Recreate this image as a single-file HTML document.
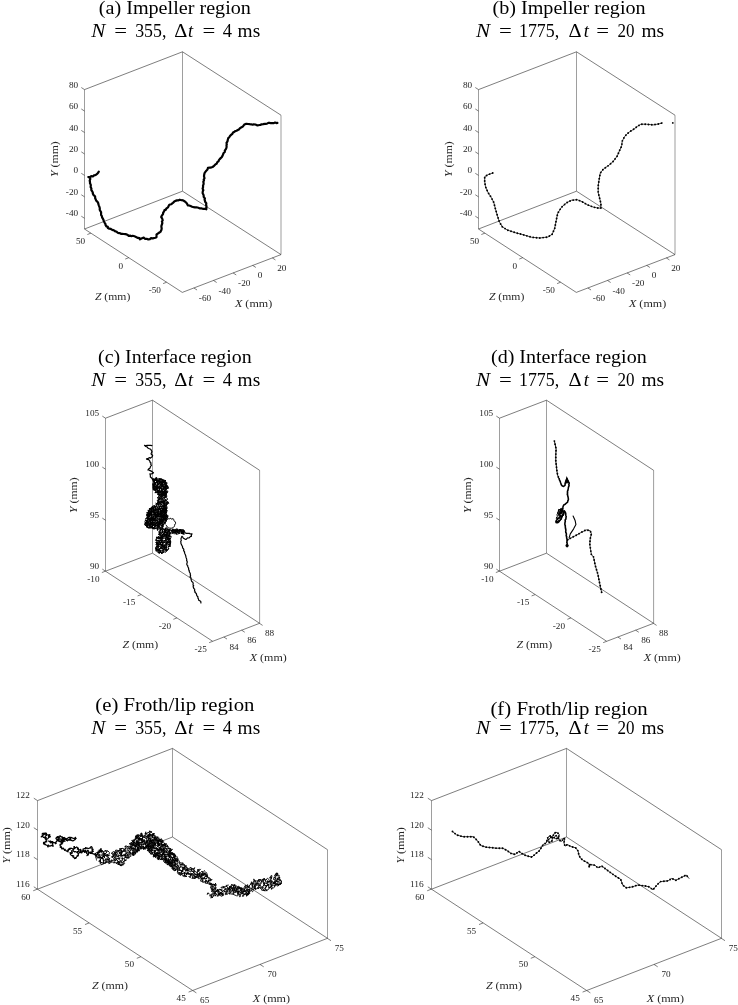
<!DOCTYPE html><html><head><meta charset="utf-8"><style>
html,body{margin:0;padding:0;background:#fff;}
svg{display:block;}
.ax line{stroke:#262626;stroke-width:0.6;}
.axv line{stroke:#262626;stroke-width:0.45;}
.tl text{font-family:"Liberation Serif",serif;font-size:9.2px;fill:#1e1e1e;}
.al{font-family:"Liberation Serif",serif;font-size:9.8px;fill:#262626;}
.ti{font-family:"Liberation Serif",serif;font-size:18.5px;fill:#000;}
.it{font-style:italic;}
.cv{fill:none;stroke:#000;stroke-linejoin:round;stroke-linecap:round;}
</style></head><body><svg width="738" height="1005" viewBox="0 0 738 1005">
<rect width="738" height="1005" fill="#fff"/>
<text class="ti" x="98.8" y="13.7" textLength="152.1" lengthAdjust="spacingAndGlyphs">(a) Impeller region</text>
<text class="ti" x="91.3" y="36.7" textLength="14.1" lengthAdjust="spacingAndGlyphs"><tspan class="it">N</tspan></text>
<text class="ti" x="114.3" y="36.7" textLength="12.8" lengthAdjust="spacingAndGlyphs">=</text>
<text class="ti" x="135.2" y="36.7" textLength="31.2" lengthAdjust="spacingAndGlyphs">355,</text>
<text class="ti" x="174.2" y="36.7" textLength="13.1" lengthAdjust="spacingAndGlyphs">Δ</text>
<text class="ti" x="188" y="36.7"><tspan class="it">t</tspan></text>
<text class="ti" x="202.6" y="36.7" textLength="12.8" lengthAdjust="spacingAndGlyphs">=</text>
<text class="ti" x="222.7" y="36.7">4</text>
<text class="ti" x="237.6" y="36.7" textLength="22.6" lengthAdjust="spacingAndGlyphs">ms</text>
<text class="ti" x="492.5" y="13.7" textLength="153.1" lengthAdjust="spacingAndGlyphs">(b) Impeller region</text>
<text class="ti" x="475.9" y="36.7" textLength="14.1" lengthAdjust="spacingAndGlyphs"><tspan class="it">N</tspan></text>
<text class="ti" x="498.9" y="36.7" textLength="12.8" lengthAdjust="spacingAndGlyphs">=</text>
<text class="ti" x="519" y="36.7" textLength="40.2" lengthAdjust="spacingAndGlyphs">1775,</text>
<text class="ti" x="568.6" y="36.7" textLength="13.1" lengthAdjust="spacingAndGlyphs">Δ</text>
<text class="ti" x="583.7" y="36.7"><tspan class="it">t</tspan></text>
<text class="ti" x="596.3" y="36.7" textLength="12.8" lengthAdjust="spacingAndGlyphs">=</text>
<text class="ti" x="617.6" y="36.7" textLength="17" lengthAdjust="spacingAndGlyphs">20</text>
<text class="ti" x="641.4" y="36.7" textLength="22.6" lengthAdjust="spacingAndGlyphs">ms</text>
<text class="ti" x="98" y="362.5" textLength="153.7" lengthAdjust="spacingAndGlyphs">(c) Interface region</text>
<text class="ti" x="91.3" y="385.5" textLength="14.1" lengthAdjust="spacingAndGlyphs"><tspan class="it">N</tspan></text>
<text class="ti" x="114.3" y="385.5" textLength="12.8" lengthAdjust="spacingAndGlyphs">=</text>
<text class="ti" x="135.2" y="385.5" textLength="31.2" lengthAdjust="spacingAndGlyphs">355,</text>
<text class="ti" x="174.2" y="385.5" textLength="13.1" lengthAdjust="spacingAndGlyphs">Δ</text>
<text class="ti" x="188" y="385.5"><tspan class="it">t</tspan></text>
<text class="ti" x="202.6" y="385.5" textLength="12.8" lengthAdjust="spacingAndGlyphs">=</text>
<text class="ti" x="222.7" y="385.5">4</text>
<text class="ti" x="237.6" y="385.5" textLength="22.6" lengthAdjust="spacingAndGlyphs">ms</text>
<text class="ti" x="491" y="362.5" textLength="155.7" lengthAdjust="spacingAndGlyphs">(d) Interface region</text>
<text class="ti" x="475.9" y="385.5" textLength="14.1" lengthAdjust="spacingAndGlyphs"><tspan class="it">N</tspan></text>
<text class="ti" x="498.9" y="385.5" textLength="12.8" lengthAdjust="spacingAndGlyphs">=</text>
<text class="ti" x="519" y="385.5" textLength="40.2" lengthAdjust="spacingAndGlyphs">1775,</text>
<text class="ti" x="568.6" y="385.5" textLength="13.1" lengthAdjust="spacingAndGlyphs">Δ</text>
<text class="ti" x="583.7" y="385.5"><tspan class="it">t</tspan></text>
<text class="ti" x="596.3" y="385.5" textLength="12.8" lengthAdjust="spacingAndGlyphs">=</text>
<text class="ti" x="617.6" y="385.5" textLength="17" lengthAdjust="spacingAndGlyphs">20</text>
<text class="ti" x="641.4" y="385.5" textLength="22.6" lengthAdjust="spacingAndGlyphs">ms</text>
<text class="ti" x="95.3" y="711.3" textLength="159.1" lengthAdjust="spacingAndGlyphs">(e) Froth/lip region</text>
<text class="ti" x="91.3" y="734.3" textLength="14.1" lengthAdjust="spacingAndGlyphs"><tspan class="it">N</tspan></text>
<text class="ti" x="114.3" y="734.3" textLength="12.8" lengthAdjust="spacingAndGlyphs">=</text>
<text class="ti" x="135.2" y="734.3" textLength="31.2" lengthAdjust="spacingAndGlyphs">355,</text>
<text class="ti" x="174.2" y="734.3" textLength="13.1" lengthAdjust="spacingAndGlyphs">Δ</text>
<text class="ti" x="188" y="734.3"><tspan class="it">t</tspan></text>
<text class="ti" x="202.6" y="734.3" textLength="12.8" lengthAdjust="spacingAndGlyphs">=</text>
<text class="ti" x="222.7" y="734.3">4</text>
<text class="ti" x="237.6" y="734.3" textLength="22.6" lengthAdjust="spacingAndGlyphs">ms</text>
<text class="ti" x="490.4" y="714.7" textLength="157.4" lengthAdjust="spacingAndGlyphs">(f) Froth/lip region</text>
<text class="ti" x="475.9" y="734.3" textLength="14.1" lengthAdjust="spacingAndGlyphs"><tspan class="it">N</tspan></text>
<text class="ti" x="498.9" y="734.3" textLength="12.8" lengthAdjust="spacingAndGlyphs">=</text>
<text class="ti" x="519" y="734.3" textLength="40.2" lengthAdjust="spacingAndGlyphs">1775,</text>
<text class="ti" x="568.6" y="734.3" textLength="13.1" lengthAdjust="spacingAndGlyphs">Δ</text>
<text class="ti" x="583.7" y="734.3"><tspan class="it">t</tspan></text>
<text class="ti" x="596.3" y="734.3" textLength="12.8" lengthAdjust="spacingAndGlyphs">=</text>
<text class="ti" x="617.6" y="734.3" textLength="17" lengthAdjust="spacingAndGlyphs">20</text>
<text class="ti" x="641.4" y="734.3" textLength="22.6" lengthAdjust="spacingAndGlyphs">ms</text>
<g class="ax">
<line x1="84.5" y1="89.6" x2="182.5" y2="51.8"/>
<line x1="182.5" y1="51.8" x2="281" y2="115.2"/>
<line x1="84.5" y1="229" x2="182.5" y2="191.2"/>
<line x1="182.5" y1="191.2" x2="281" y2="254.6"/>
<line x1="84.5" y1="229" x2="182.3" y2="292.4"/>
<line x1="182.3" y1="292.4" x2="281" y2="254.6"/>
</g><g class="axv">
<line x1="84.5" y1="229" x2="84.5" y2="89.6"/>
<line x1="281" y1="115.2" x2="281" y2="254.6"/>
<line x1="182.5" y1="51.8" x2="182.5" y2="191.2"/>
</g><g class="ax">
<line x1="84.5" y1="218.28" x2="81.31" y2="216.21"/>
<line x1="84.5" y1="196.83" x2="81.31" y2="194.76"/>
<line x1="84.5" y1="175.38" x2="81.31" y2="173.32"/>
<line x1="84.5" y1="153.94" x2="81.31" y2="151.87"/>
<line x1="84.5" y1="132.49" x2="81.31" y2="130.43"/>
<line x1="84.5" y1="111.05" x2="81.31" y2="108.98"/>
<line x1="84.5" y1="89.6" x2="81.31" y2="87.53"/>
<line x1="166.62" y1="282.24" x2="163.08" y2="283.6"/>
<line x1="128.76" y1="257.71" x2="125.21" y2="259.07"/>
<line x1="90.89" y1="233.17" x2="87.34" y2="234.53"/>
<line x1="193.87" y1="287.96" x2="197.05" y2="290.03"/>
<line x1="213.47" y1="280.44" x2="216.66" y2="282.51"/>
<line x1="233.07" y1="272.92" x2="236.26" y2="274.98"/>
<line x1="252.67" y1="265.39" x2="255.86" y2="267.46"/>
<line x1="272.27" y1="257.87" x2="275.46" y2="259.94"/>
</g>
<g class="tl">
<text class="t" x="78.15" y="216.38" text-anchor="end" textLength="12.27" lengthAdjust="spacingAndGlyphs">-40</text>
<text class="t" x="78.15" y="194.93" text-anchor="end" textLength="12.27" lengthAdjust="spacingAndGlyphs">-20</text>
<text class="t" x="78.15" y="173.48" text-anchor="end" textLength="4.6" lengthAdjust="spacingAndGlyphs">0</text>
<text class="t" x="78.15" y="152.04" text-anchor="end" textLength="9.2" lengthAdjust="spacingAndGlyphs">20</text>
<text class="t" x="78.15" y="130.59" text-anchor="end" textLength="9.2" lengthAdjust="spacingAndGlyphs">40</text>
<text class="t" x="78.15" y="109.15" text-anchor="end" textLength="9.2" lengthAdjust="spacingAndGlyphs">60</text>
<text class="t" x="78.15" y="87.7" text-anchor="end" textLength="9.2" lengthAdjust="spacingAndGlyphs">80</text>
<text class="t" x="160.92" y="293.14" text-anchor="end" textLength="12.27" lengthAdjust="spacingAndGlyphs">-50</text>
<text class="t" x="123.06" y="268.61" text-anchor="end" textLength="4.6" lengthAdjust="spacingAndGlyphs">0</text>
<text class="t" x="85.19" y="244.07" text-anchor="end" textLength="9.2" lengthAdjust="spacingAndGlyphs">50</text>
<text class="t" x="198.87" y="301.06" text-anchor="start" textLength="12.27" lengthAdjust="spacingAndGlyphs">-60</text>
<text class="t" x="218.47" y="293.54" text-anchor="start" textLength="12.27" lengthAdjust="spacingAndGlyphs">-40</text>
<text class="t" x="238.07" y="286.02" text-anchor="start" textLength="12.27" lengthAdjust="spacingAndGlyphs">-20</text>
<text class="t" x="257.67" y="278.49" text-anchor="start" textLength="4.6" lengthAdjust="spacingAndGlyphs">0</text>
<text class="t" x="277.27" y="270.97" text-anchor="start" textLength="9.2" lengthAdjust="spacingAndGlyphs">20</text>
</g>
<text class="al" transform="translate(58.2,159.1) rotate(-90)" x="-17.9" textLength="35.8" lengthAdjust="spacingAndGlyphs"><tspan class="it">Y</tspan> (mm)</text>
<text class="al" x="94.9" y="300.2" textLength="35.4" lengthAdjust="spacingAndGlyphs"><tspan class="it">Z</tspan> (mm)</text>
<text class="al" x="235" y="306.5" textLength="37.2" lengthAdjust="spacingAndGlyphs"><tspan class="it">X</tspan> (mm)</text>
<g class="ax">
<line x1="478.5" y1="89.6" x2="576.5" y2="51.8"/>
<line x1="576.5" y1="51.8" x2="675" y2="115.2"/>
<line x1="478.5" y1="229" x2="576.5" y2="191.2"/>
<line x1="576.5" y1="191.2" x2="675" y2="254.6"/>
<line x1="478.5" y1="229" x2="576.3" y2="292.4"/>
<line x1="576.3" y1="292.4" x2="675" y2="254.6"/>
</g><g class="axv">
<line x1="478.5" y1="229" x2="478.5" y2="89.6"/>
<line x1="675" y1="115.2" x2="675" y2="254.6"/>
<line x1="576.5" y1="51.8" x2="576.5" y2="191.2"/>
</g><g class="ax">
<line x1="478.5" y1="218.28" x2="475.31" y2="216.21"/>
<line x1="478.5" y1="196.83" x2="475.31" y2="194.76"/>
<line x1="478.5" y1="175.38" x2="475.31" y2="173.32"/>
<line x1="478.5" y1="153.94" x2="475.31" y2="151.87"/>
<line x1="478.5" y1="132.49" x2="475.31" y2="130.43"/>
<line x1="478.5" y1="111.05" x2="475.31" y2="108.98"/>
<line x1="478.5" y1="89.6" x2="475.31" y2="87.53"/>
<line x1="560.62" y1="282.24" x2="557.08" y2="283.6"/>
<line x1="522.76" y1="257.71" x2="519.21" y2="259.07"/>
<line x1="484.89" y1="233.17" x2="481.34" y2="234.53"/>
<line x1="587.87" y1="287.96" x2="591.05" y2="290.03"/>
<line x1="607.47" y1="280.44" x2="610.66" y2="282.51"/>
<line x1="627.07" y1="272.92" x2="630.26" y2="274.98"/>
<line x1="646.67" y1="265.39" x2="649.86" y2="267.46"/>
<line x1="666.27" y1="257.87" x2="669.46" y2="259.94"/>
</g>
<g class="tl">
<text class="t" x="472.15" y="216.38" text-anchor="end" textLength="12.27" lengthAdjust="spacingAndGlyphs">-40</text>
<text class="t" x="472.15" y="194.93" text-anchor="end" textLength="12.27" lengthAdjust="spacingAndGlyphs">-20</text>
<text class="t" x="472.15" y="173.48" text-anchor="end" textLength="4.6" lengthAdjust="spacingAndGlyphs">0</text>
<text class="t" x="472.15" y="152.04" text-anchor="end" textLength="9.2" lengthAdjust="spacingAndGlyphs">20</text>
<text class="t" x="472.15" y="130.59" text-anchor="end" textLength="9.2" lengthAdjust="spacingAndGlyphs">40</text>
<text class="t" x="472.15" y="109.15" text-anchor="end" textLength="9.2" lengthAdjust="spacingAndGlyphs">60</text>
<text class="t" x="472.15" y="87.7" text-anchor="end" textLength="9.2" lengthAdjust="spacingAndGlyphs">80</text>
<text class="t" x="554.92" y="293.14" text-anchor="end" textLength="12.27" lengthAdjust="spacingAndGlyphs">-50</text>
<text class="t" x="517.06" y="268.61" text-anchor="end" textLength="4.6" lengthAdjust="spacingAndGlyphs">0</text>
<text class="t" x="479.19" y="244.07" text-anchor="end" textLength="9.2" lengthAdjust="spacingAndGlyphs">50</text>
<text class="t" x="592.87" y="301.06" text-anchor="start" textLength="12.27" lengthAdjust="spacingAndGlyphs">-60</text>
<text class="t" x="612.47" y="293.54" text-anchor="start" textLength="12.27" lengthAdjust="spacingAndGlyphs">-40</text>
<text class="t" x="632.07" y="286.02" text-anchor="start" textLength="12.27" lengthAdjust="spacingAndGlyphs">-20</text>
<text class="t" x="651.67" y="278.49" text-anchor="start" textLength="4.6" lengthAdjust="spacingAndGlyphs">0</text>
<text class="t" x="671.27" y="270.97" text-anchor="start" textLength="9.2" lengthAdjust="spacingAndGlyphs">20</text>
</g>
<text class="al" transform="translate(452.2,159.1) rotate(-90)" x="-17.9" textLength="35.8" lengthAdjust="spacingAndGlyphs"><tspan class="it">Y</tspan> (mm)</text>
<text class="al" x="488.9" y="300.2" textLength="35.4" lengthAdjust="spacingAndGlyphs"><tspan class="it">Z</tspan> (mm)</text>
<text class="al" x="629" y="306.5" textLength="37.2" lengthAdjust="spacingAndGlyphs"><tspan class="it">X</tspan> (mm)</text>
<g class="ax">
<line x1="105.5" y1="418.2" x2="152.5" y2="400.2"/>
<line x1="152.5" y1="400.2" x2="259.6" y2="470.3"/>
<line x1="105.5" y1="571.2" x2="152.5" y2="553.2"/>
<line x1="152.5" y1="553.2" x2="259.6" y2="623.3"/>
<line x1="105.5" y1="571.2" x2="212.7" y2="641.3"/>
<line x1="212.7" y1="641.3" x2="259.6" y2="623.3"/>
</g><g class="axv">
<line x1="105.5" y1="571.2" x2="105.5" y2="418.2"/>
<line x1="259.6" y1="470.3" x2="259.6" y2="623.3"/>
<line x1="152.5" y1="400.2" x2="152.5" y2="553.2"/>
</g><g class="ax">
<line x1="105.5" y1="571.2" x2="102.32" y2="569.12"/>
<line x1="105.5" y1="520.2" x2="102.32" y2="518.12"/>
<line x1="105.5" y1="469.2" x2="102.32" y2="467.12"/>
<line x1="105.5" y1="418.2" x2="102.32" y2="416.12"/>
<line x1="212.7" y1="641.3" x2="209.15" y2="642.67"/>
<line x1="176.93" y1="617.93" x2="173.39" y2="619.3"/>
<line x1="141.17" y1="594.57" x2="137.62" y2="595.93"/>
<line x1="105.4" y1="571.2" x2="101.85" y2="572.57"/>
<line x1="223.82" y1="637.01" x2="227" y2="639.09"/>
<line x1="241.61" y1="630.16" x2="244.79" y2="632.24"/>
<line x1="259.4" y1="623.3" x2="262.58" y2="625.38"/>
</g>
<g class="tl">
<text class="t" x="99.1" y="568.7" text-anchor="end" textLength="9.2" lengthAdjust="spacingAndGlyphs">90</text>
<text class="t" x="99.1" y="517.7" text-anchor="end" textLength="9.2" lengthAdjust="spacingAndGlyphs">95</text>
<text class="t" x="99.1" y="466.7" text-anchor="end" textLength="13.8" lengthAdjust="spacingAndGlyphs">100</text>
<text class="t" x="99.1" y="415.7" text-anchor="end" textLength="13.8" lengthAdjust="spacingAndGlyphs">105</text>
<text class="t" x="206.8" y="652" text-anchor="end" textLength="12.27" lengthAdjust="spacingAndGlyphs">-25</text>
<text class="t" x="171.03" y="628.63" text-anchor="end" textLength="12.27" lengthAdjust="spacingAndGlyphs">-20</text>
<text class="t" x="135.27" y="605.27" text-anchor="end" textLength="12.27" lengthAdjust="spacingAndGlyphs">-15</text>
<text class="t" x="99.5" y="581.9" text-anchor="end" textLength="12.27" lengthAdjust="spacingAndGlyphs">-10</text>
<text class="t" x="229.42" y="649.91" text-anchor="start" textLength="9.2" lengthAdjust="spacingAndGlyphs">84</text>
<text class="t" x="247.21" y="643.06" text-anchor="start" textLength="9.2" lengthAdjust="spacingAndGlyphs">86</text>
<text class="t" x="265" y="636.2" text-anchor="start" textLength="9.2" lengthAdjust="spacingAndGlyphs">88</text>
</g>
<text class="al" transform="translate(77.4,495.2) rotate(-90)" x="-17.75" textLength="35.5" lengthAdjust="spacingAndGlyphs"><tspan class="it">Y</tspan> (mm)</text>
<text class="al" x="122.5" y="648.3" textLength="35.7" lengthAdjust="spacingAndGlyphs"><tspan class="it">Z</tspan> (mm)</text>
<text class="al" x="249.8" y="661.4" textLength="37" lengthAdjust="spacingAndGlyphs"><tspan class="it">X</tspan> (mm)</text>
<g class="ax">
<line x1="499.5" y1="418.2" x2="546.5" y2="400.2"/>
<line x1="546.5" y1="400.2" x2="653.6" y2="470.3"/>
<line x1="499.5" y1="571.2" x2="546.5" y2="553.2"/>
<line x1="546.5" y1="553.2" x2="653.6" y2="623.3"/>
<line x1="499.5" y1="571.2" x2="606.7" y2="641.3"/>
<line x1="606.7" y1="641.3" x2="653.6" y2="623.3"/>
</g><g class="axv">
<line x1="499.5" y1="571.2" x2="499.5" y2="418.2"/>
<line x1="653.6" y1="470.3" x2="653.6" y2="623.3"/>
<line x1="546.5" y1="400.2" x2="546.5" y2="553.2"/>
</g><g class="ax">
<line x1="499.5" y1="571.2" x2="496.32" y2="569.12"/>
<line x1="499.5" y1="520.2" x2="496.32" y2="518.12"/>
<line x1="499.5" y1="469.2" x2="496.32" y2="467.12"/>
<line x1="499.5" y1="418.2" x2="496.32" y2="416.12"/>
<line x1="606.7" y1="641.3" x2="603.15" y2="642.67"/>
<line x1="570.93" y1="617.93" x2="567.39" y2="619.3"/>
<line x1="535.17" y1="594.57" x2="531.62" y2="595.93"/>
<line x1="499.4" y1="571.2" x2="495.85" y2="572.57"/>
<line x1="617.82" y1="637.01" x2="621" y2="639.09"/>
<line x1="635.61" y1="630.16" x2="638.79" y2="632.24"/>
<line x1="653.4" y1="623.3" x2="656.58" y2="625.38"/>
</g>
<g class="tl">
<text class="t" x="493.1" y="568.7" text-anchor="end" textLength="9.2" lengthAdjust="spacingAndGlyphs">90</text>
<text class="t" x="493.1" y="517.7" text-anchor="end" textLength="9.2" lengthAdjust="spacingAndGlyphs">95</text>
<text class="t" x="493.1" y="466.7" text-anchor="end" textLength="13.8" lengthAdjust="spacingAndGlyphs">100</text>
<text class="t" x="493.1" y="415.7" text-anchor="end" textLength="13.8" lengthAdjust="spacingAndGlyphs">105</text>
<text class="t" x="600.8" y="652" text-anchor="end" textLength="12.27" lengthAdjust="spacingAndGlyphs">-25</text>
<text class="t" x="565.03" y="628.63" text-anchor="end" textLength="12.27" lengthAdjust="spacingAndGlyphs">-20</text>
<text class="t" x="529.27" y="605.27" text-anchor="end" textLength="12.27" lengthAdjust="spacingAndGlyphs">-15</text>
<text class="t" x="493.5" y="581.9" text-anchor="end" textLength="12.27" lengthAdjust="spacingAndGlyphs">-10</text>
<text class="t" x="623.42" y="649.91" text-anchor="start" textLength="9.2" lengthAdjust="spacingAndGlyphs">84</text>
<text class="t" x="641.21" y="643.06" text-anchor="start" textLength="9.2" lengthAdjust="spacingAndGlyphs">86</text>
<text class="t" x="659" y="636.2" text-anchor="start" textLength="9.2" lengthAdjust="spacingAndGlyphs">88</text>
</g>
<text class="al" transform="translate(471.4,495.2) rotate(-90)" x="-17.75" textLength="35.5" lengthAdjust="spacingAndGlyphs"><tspan class="it">Y</tspan> (mm)</text>
<text class="al" x="516.5" y="648.3" textLength="35.7" lengthAdjust="spacingAndGlyphs"><tspan class="it">Z</tspan> (mm)</text>
<text class="al" x="643.8" y="661.4" textLength="37" lengthAdjust="spacingAndGlyphs"><tspan class="it">X</tspan> (mm)</text>
<g class="ax">
<line x1="37.5" y1="800.6" x2="172.5" y2="748.4"/>
<line x1="172.5" y1="748.4" x2="327.5" y2="849.7"/>
<line x1="37.5" y1="889.2" x2="172.5" y2="837"/>
<line x1="172.5" y1="837" x2="327.5" y2="938.3"/>
<line x1="37.5" y1="889.2" x2="192.7" y2="990.5"/>
<line x1="192.7" y1="990.5" x2="327.5" y2="938.3"/>
</g><g class="axv">
<line x1="37.5" y1="889.2" x2="37.5" y2="800.6"/>
<line x1="327.5" y1="849.7" x2="327.5" y2="938.3"/>
<line x1="172.5" y1="748.4" x2="172.5" y2="837"/>
</g><g class="ax">
<line x1="37.5" y1="889.2" x2="33.81" y2="886.8"/>
<line x1="37.5" y1="859.67" x2="33.81" y2="857.26"/>
<line x1="37.5" y1="830.13" x2="33.81" y2="827.73"/>
<line x1="37.5" y1="800.6" x2="33.81" y2="798.2"/>
<line x1="192.7" y1="990.5" x2="188.6" y2="992.09"/>
<line x1="140.9" y1="956.73" x2="136.8" y2="958.32"/>
<line x1="89.1" y1="922.97" x2="85" y2="924.56"/>
<line x1="37.3" y1="889.2" x2="33.2" y2="890.79"/>
<line x1="192.7" y1="990.5" x2="196.39" y2="992.9"/>
<line x1="260" y1="964.4" x2="263.69" y2="966.8"/>
<line x1="327.3" y1="938.3" x2="330.99" y2="940.7"/>
</g>
<g class="tl">
<text class="t" x="29.8" y="887" text-anchor="end" textLength="13.8" lengthAdjust="spacingAndGlyphs">116</text>
<text class="t" x="29.8" y="857.47" text-anchor="end" textLength="13.8" lengthAdjust="spacingAndGlyphs">118</text>
<text class="t" x="29.8" y="827.93" text-anchor="end" textLength="13.8" lengthAdjust="spacingAndGlyphs">120</text>
<text class="t" x="29.8" y="798.4" text-anchor="end" textLength="13.8" lengthAdjust="spacingAndGlyphs">122</text>
<text class="t" x="185.8" y="1001.1" text-anchor="end" textLength="9.2" lengthAdjust="spacingAndGlyphs">45</text>
<text class="t" x="134" y="967.33" text-anchor="end" textLength="9.2" lengthAdjust="spacingAndGlyphs">50</text>
<text class="t" x="82.2" y="933.57" text-anchor="end" textLength="9.2" lengthAdjust="spacingAndGlyphs">55</text>
<text class="t" x="30.4" y="899.8" text-anchor="end" textLength="9.2" lengthAdjust="spacingAndGlyphs">60</text>
<text class="t" x="200.1" y="1003.2" text-anchor="start" textLength="9.2" lengthAdjust="spacingAndGlyphs">65</text>
<text class="t" x="267.4" y="977.1" text-anchor="start" textLength="9.2" lengthAdjust="spacingAndGlyphs">70</text>
<text class="t" x="334.7" y="951" text-anchor="start" textLength="9.2" lengthAdjust="spacingAndGlyphs">75</text>
</g>
<text class="al" transform="translate(9.6,845.4) rotate(-90)" x="-18.2" textLength="36.4" lengthAdjust="spacingAndGlyphs"><tspan class="it">Y</tspan> (mm)</text>
<text class="al" x="91.9" y="989.4" textLength="36" lengthAdjust="spacingAndGlyphs"><tspan class="it">Z</tspan> (mm)</text>
<text class="al" x="252.7" y="1001.9" textLength="37.4" lengthAdjust="spacingAndGlyphs"><tspan class="it">X</tspan> (mm)</text>
<g class="ax">
<line x1="431.5" y1="800.6" x2="566.5" y2="748.4"/>
<line x1="566.5" y1="748.4" x2="721.5" y2="849.7"/>
<line x1="431.5" y1="889.2" x2="566.5" y2="837"/>
<line x1="566.5" y1="837" x2="721.5" y2="938.3"/>
<line x1="431.5" y1="889.2" x2="586.7" y2="990.5"/>
<line x1="586.7" y1="990.5" x2="721.5" y2="938.3"/>
</g><g class="axv">
<line x1="431.5" y1="889.2" x2="431.5" y2="800.6"/>
<line x1="721.5" y1="849.7" x2="721.5" y2="938.3"/>
<line x1="566.5" y1="748.4" x2="566.5" y2="837"/>
</g><g class="ax">
<line x1="431.5" y1="889.2" x2="427.81" y2="886.8"/>
<line x1="431.5" y1="859.67" x2="427.81" y2="857.26"/>
<line x1="431.5" y1="830.13" x2="427.81" y2="827.73"/>
<line x1="431.5" y1="800.6" x2="427.81" y2="798.2"/>
<line x1="586.7" y1="990.5" x2="582.6" y2="992.09"/>
<line x1="534.9" y1="956.73" x2="530.8" y2="958.32"/>
<line x1="483.1" y1="922.97" x2="479" y2="924.56"/>
<line x1="431.3" y1="889.2" x2="427.2" y2="890.79"/>
<line x1="586.7" y1="990.5" x2="590.39" y2="992.9"/>
<line x1="654" y1="964.4" x2="657.69" y2="966.8"/>
<line x1="721.3" y1="938.3" x2="724.99" y2="940.7"/>
</g>
<g class="tl">
<text class="t" x="423.8" y="887" text-anchor="end" textLength="13.8" lengthAdjust="spacingAndGlyphs">116</text>
<text class="t" x="423.8" y="857.47" text-anchor="end" textLength="13.8" lengthAdjust="spacingAndGlyphs">118</text>
<text class="t" x="423.8" y="827.93" text-anchor="end" textLength="13.8" lengthAdjust="spacingAndGlyphs">120</text>
<text class="t" x="423.8" y="798.4" text-anchor="end" textLength="13.8" lengthAdjust="spacingAndGlyphs">122</text>
<text class="t" x="579.8" y="1001.1" text-anchor="end" textLength="9.2" lengthAdjust="spacingAndGlyphs">45</text>
<text class="t" x="528" y="967.33" text-anchor="end" textLength="9.2" lengthAdjust="spacingAndGlyphs">50</text>
<text class="t" x="476.2" y="933.57" text-anchor="end" textLength="9.2" lengthAdjust="spacingAndGlyphs">55</text>
<text class="t" x="424.4" y="899.8" text-anchor="end" textLength="9.2" lengthAdjust="spacingAndGlyphs">60</text>
<text class="t" x="594.1" y="1003.2" text-anchor="start" textLength="9.2" lengthAdjust="spacingAndGlyphs">65</text>
<text class="t" x="661.4" y="977.1" text-anchor="start" textLength="9.2" lengthAdjust="spacingAndGlyphs">70</text>
<text class="t" x="728.7" y="951" text-anchor="start" textLength="9.2" lengthAdjust="spacingAndGlyphs">75</text>
</g>
<text class="al" transform="translate(403.6,845.4) rotate(-90)" x="-18.2" textLength="36.4" lengthAdjust="spacingAndGlyphs"><tspan class="it">Y</tspan> (mm)</text>
<text class="al" x="485.9" y="989.4" textLength="36" lengthAdjust="spacingAndGlyphs"><tspan class="it">Z</tspan> (mm)</text>
<text class="al" x="646.7" y="1001.9" textLength="37.4" lengthAdjust="spacingAndGlyphs"><tspan class="it">X</tspan> (mm)</text>
<path class="cv" d="M98.8 171.7 L98.3 172.5 L97.4 173.7 L96.1 174.7 L95.0 175.1 L93.9 175.3 L93.1 176.5 L91.2 176.2 L89.9 177.1 L88.3 177.1 L90.2 177.9 L90.2 179.4 L89.7 180.5 L90.0 182.3 L90.0 183.4 L90.7 184.5 L90.8 185.6 L90.6 187.1 L91.4 188.6 L91.3 190.1 L92.0 191.0 L92.8 192.5 L92.8 193.5 L93.5 195.0 L94.2 195.6 L95.1 196.6 L95.2 198.4 L95.7 199.3 L96.2 200.7 L97.5 201.8 L98.1 202.9 L98.5 204.4 L98.9 205.6 L99.6 207.4 L99.8 208.4 L99.7 209.8 L100.6 211.4 L101.1 212.1 L101.1 213.8 L101.1 215.0 L101.8 215.9 L102.2 217.7 L102.8 218.5 L103.6 220.3 L103.8 221.2 L104.7 222.8 L105.5 224.1 L105.5 224.9 L106.4 226.4 L107.8 226.9 L107.9 228.1 L109.2 228.7 L110.8 228.9 L111.5 229.5 L113.1 230.1 L114.6 230.8 L115.3 231.4 L116.4 231.5 L117.7 232.8 L119.0 233.1 L119.9 233.1 L121.0 233.8 L122.3 233.8 L123.8 234.0 L125.3 234.1 L126.4 234.3 L127.6 234.9 L128.7 235.8 L130.4 235.6 L131.3 236.2 L132.7 235.8 L134.5 236.3 L135.5 236.7 L136.5 237.2 L137.9 237.9 L139.5 238.2 L139.9 239.4 L142.0 238.2 L143.7 237.6 L144.9 238.8 L146.4 238.8 L147.1 238.9 L148.2 239.5 L149.9 239.1 L151.0 238.2 L152.8 238.4 L154.2 238.0 L155.5 237.7 L156.4 237.3 L156.6 235.5 L156.5 234.4 L157.7 233.7 L159.4 232.5 L160.4 231.9 L161.4 230.0 L161.7 228.6 L161.4 226.8 L161.4 225.8 L162.1 224.0 L162.4 223.0 L161.9 221.5 L162.7 220.3 L162.1 218.3 L161.2 217.0 L161.9 215.6 L163.1 213.8 L163.1 212.9 L164.2 211.2 L164.5 210.1 L166.0 209.6 L166.2 208.6 L168.0 207.4 L168.5 206.3 L169.3 204.8 L171.1 204.3 L171.7 203.9 L172.6 203.2 L174.0 201.9 L174.5 201.3 L175.5 200.9 L176.9 200.4 L178.1 200.4 L179.7 199.7 L181.6 200.2 L183.1 200.4 L184.5 201.3 L185.7 202.1 L186.9 203.5 L187.8 205.3 L189.3 205.5 L191.1 206.2 L192.1 206.7 L193.8 207.2 L194.8 207.3 L196.4 207.3 L198.3 207.8 L199.5 208.3 L201.2 208.3 L202.3 208.6 L203.6 208.9 L204.9 208.8 L206.3 209.3 L206.4 207.9 L206.5 206.0 L206.1 205.2 L206.3 203.2 L205.3 202.1 L204.9 200.6 L204.6 199.6 L204.9 198.5 L203.7 196.9 L203.6 195.0 L203.2 194.4 L202.6 193.1 L202.8 191.3 L203.3 190.2 L202.6 188.5 L203.1 187.1 L203.0 185.7 L203.6 184.1 L203.6 183.1 L203.3 181.7 L204.0 180.5 L203.7 179.6 L204.5 178.2 L204.0 176.2 L204.1 175.3 L204.5 173.3 L204.8 172.7 L206.0 171.1 L206.3 170.7 L207.5 169.5 L207.9 167.9 L209.8 167.7 L210.6 167.6 L212.5 167.0 L213.3 166.5 L214.3 165.6 L215.6 164.2 L216.6 163.8 L217.3 162.1 L218.5 161.3 L218.9 160.1 L219.7 159.1 L220.7 158.1 L221.9 157.0 L222.5 155.8 L223.1 154.3 L223.7 152.9 L224.8 152.0 L224.8 150.6 L226.0 148.9 L226.4 147.9 L226.6 146.9 L226.5 145.2 L226.8 144.3 L226.5 142.8 L227.5 141.3 L227.8 139.7 L228.2 138.2 L229.1 137.5 L230.1 135.8 L230.8 135.2 L232.3 133.9 L233.0 132.6 L234.2 132.0 L235.2 131.1 L236.5 130.7 L238.3 129.7 L238.9 129.4 L240.1 128.1 L241.1 127.5 L242.5 126.8 L243.3 125.9 L244.1 124.8 L245.2 124.1 L246.5 123.8 L248.1 124.0 L249.7 124.2 L251.2 124.3 L252.6 124.7 L253.6 124.4 L255.5 124.5 L256.6 125.1 L257.4 125.5 L259.5 125.0 L260.7 124.8 L261.5 124.3 L263.2 124.2 L264.8 123.9 L265.9 123.8 L267.4 123.5 L268.3 122.8 L269.6 122.9 L270.9 123.2 L272.6 123.0 L273.9 123.1 L275.0 122.5 L276.4 123.1 L277.4 122.9" stroke-width="2.2"/>
<path class="cv" d="M492.7 173.0 L488.0 174.7 L484.7 176.7 L484.7 181.7 L485.5 186.7 L488.0 192.5 L491.3 197.5 L493.8 202.5 L495.5 209.2 L497.2 215.0 L499.3 221.7 L502.2 226.7 L507.2 230.0 L514.7 232.5 L523.0 234.7 L531.3 237.2 L539.7 238.0 L548.0 237.0 L552.2 234.2 L554.7 228.3 L556.3 220.0 L557.7 213.3 L561.3 207.5 L566.3 203.0 L571.3 200.3 L577.2 199.7 L582.2 201.7 L587.2 204.7 L593.0 207.0 L597.0 207.9 L600.9 208.2 L600.9 203.5 L599.6 198.1 L598.2 192.7 L598.2 185.9 L599.2 179.1 L600.3 173.0 L603.6 168.9 L608.4 165.6 L613.1 161.5 L617.2 156.1 L619.5 150.7 L621.7 145.9 L622.2 141.2 L624.7 136.4 L628.7 132.4 L634.1 129.0 L637.5 126.3 L640.9 124.2 L646.3 124.2 L653.1 124.9 L658.5 124.0 L662.3 122.9" stroke-width="0.7"/>
<path class="cv" d="M492.7 173.0 L488.0 174.7 L484.7 176.7 L484.7 181.7 L485.5 186.7 L488.0 192.5 L491.3 197.5 L493.8 202.5 L495.5 209.2 L497.2 215.0 L499.3 221.7 L502.2 226.7 L507.2 230.0 L514.7 232.5 L523.0 234.7 L531.3 237.2 L539.7 238.0 L548.0 237.0 L552.2 234.2 L554.7 228.3 L556.3 220.0 L557.7 213.3 L561.3 207.5 L566.3 203.0 L571.3 200.3 L577.2 199.7 L582.2 201.7 L587.2 204.7 L593.0 207.0 L597.0 207.9 L600.9 208.2 L600.9 203.5 L599.6 198.1 L598.2 192.7 L598.2 185.9 L599.2 179.1 L600.3 173.0 L603.6 168.9 L608.4 165.6 L613.1 161.5 L617.2 156.1 L619.5 150.7 L621.7 145.9 L622.2 141.2 L624.7 136.4 L628.7 132.4 L634.1 129.0 L637.5 126.3 L640.9 124.2 L646.3 124.2 L653.1 124.9 L658.5 124.0 L662.3 122.9" stroke-width="1.9" stroke-dasharray="0 3.3"/>
<circle cx="672.8" cy="122.9" r="0.9" fill="#000"/>
<path class="cv" d="M151.9 445.6 L150.7 445.3 L149.4 445.4 L147.7 445.4 L147.0 445.3 L145.9 445.8 L144.5 445.3 L145.3 446.1 L146.4 446.7 L147.1 446.9 L147.8 447.9 L149.4 448.8 L150.4 449.1 L151.0 449.7 L152.0 451.8 L151.6 452.6 L151.0 453.9 L151.6 454.5 L152.6 455.5 L152.2 456.9 L151.0 457.5 L150.6 458.1 L149.2 457.7 L147.7 458.7 L146.5 458.9 L147.2 459.4 L148.7 459.7 L149.5 460.6 L150.1 461.7 L150.2 462.7 L151.0 462.9 L150.8 464.4 L151.4 465.3 L150.5 466.5 L150.0 468.1 L148.9 468.7 L148.7 468.8 L147.9 470.0 L148.9 470.0 L149.5 470.4 L151.8 471.4 L152.4 472.1 L153.5 472.7 L152.2 473.7 L151.1 474.0 L149.9 473.8 L150.3 475.1 L150.4 477.1 L151.7 478.1 L152.4 479.3 L154.0 479.5 L155.2 479.5 L156.3 479.6 L157.3 479.4" stroke-width="1.2"/>
<path class="cv" d="M168.3 530.1 L168.8 529.7 L170.5 529.9 L171.1 530.2 L172.0 530.7 L173.7 530.3 L174.4 530.4 L175.3 530.5 L175.9 530.3 L176.9 531.0 L178.2 530.4 L179.6 531.2 L180.1 530.7 L180.9 531.0 L182.0 531.4 L182.9 531.9 L184.2 532.9 L185.4 532.8 L186.0 533.3 L187.0 533.3 L187.7 533.4 L189.6 533.4 L190.2 534.0 L191.5 533.8 L192.0 533.9 L191.4 535.0 L191.4 536.3 L190.6 536.3 L189.1 537.9 L189.0 538.0 L187.6 537.9 L186.4 539.1 L185.8 539.4 L184.9 539.1 L183.4 538.2 L183.1 537.9 L182.9 537.1 L181.9 536.3 L181.6 537.2 L181.0 538.6 L181.1 539.9 L181.3 540.4 L180.7 541.5 L181.0 543.1 L180.9 543.5 L181.7 545.0 L181.9 545.6 L182.5 546.4 L182.6 547.9 L183.6 549.0 L183.9 549.9 L183.6 550.6 L184.7 552.1 L184.4 552.4 L185.0 554.0 L185.3 554.6 L185.9 556.2 L185.8 556.3 L186.1 557.7 L186.5 558.5 L186.8 560.0 L186.6 560.5 L187.2 561.6 L187.2 562.5 L186.7 564.1 L187.2 565.3 L187.7 565.5 L187.8 566.7 L188.7 568.2 L188.5 568.7 L188.9 570.3 L189.2 570.4 L189.3 571.8 L190.3 573.5 L190.3 574.7 L190.6 575.2 L190.0 577.0 L190.7 577.2 L191.0 578.6 L191.1 579.5 L191.3 580.2 L191.8 581.6 L192.8 582.3 L193.2 583.4 L193.0 585.0 L193.7 585.6 L193.1 586.7 L193.7 588.1 L193.8 588.6 L194.7 589.2 L194.5 591.0 L195.1 591.2 L194.9 592.3 L196.3 593.5 L196.7 595.2 L196.8 595.6 L198.0 597.0 L197.8 598.1 L198.4 598.7 L198.7 600.2 L200.2 601.1 L200.8 601.5 L200.9 603.0" stroke-width="1.2"/>
<path class="cv" d="M154.4 481.9 L154.5 479.5 L152.8 478.3 L152.6 480.0 L154.6 479.6 L154.4 479.2 L155.7 477.7 L156.5 478.7 L156.1 478.9 L157.0 477.9 L155.6 478.9 L155.1 479.0 L156.8 477.5 L154.9 479.4 L156.4 480.0 L155.2 480.5 L156.1 480.7 L156.8 480.5 L154.0 480.2 L154.9 480.6 L156.1 479.3 L153.9 481.1 L153.8 480.4 L153.8 481.1 L153.1 481.5 L152.9 479.4 L154.2 480.9 L153.4 480.5 L154.1 482.5 L153.5 483.6 L152.7 483.3 L154.1 482.6 L153.8 482.2 L154.3 482.6 L154.6 485.2 L153.0 485.4 L153.1 483.7 L153.1 485.4 L153.3 484.4 L152.9 485.2 L154.4 484.2 L152.8 485.0 L153.9 485.2 L155.4 483.3 L155.8 484.6 L155.7 484.7 L155.8 484.9 L154.5 483.1 L155.1 485.9 L154.2 485.4 L155.8 484.0 L153.8 481.0 L155.2 482.1 L155.7 483.2 L157.0 481.8 L155.3 483.0 L154.0 482.0 L155.7 483.3 L154.9 483.7 L156.3 482.6 L157.1 482.5 L158.8 483.1 L157.1 482.6 L156.6 481.6 L158.6 481.8 L156.6 481.5 L156.9 482.8 L157.4 482.6 L157.3 485.9 L157.5 484.8 L156.9 484.8 L157.0 484.7 L157.3 485.3 L158.0 484.5 L157.4 484.4 L156.7 485.8 L156.8 485.0 L158.5 485.0 L157.0 483.5 L159.4 484.8 L158.3 484.9 L159.6 483.4 L158.3 484.5 L159.2 483.9 L159.2 481.4 L160.2 482.3 L158.3 481.7 L158.1 481.3 L159.2 482.1 L160.8 482.5 L160.3 483.6 L158.4 483.8 L159.8 482.7 L159.3 481.4 L160.2 483.3 L160.8 481.5 L160.3 481.6 L159.4 480.5 L159.0 481.8 L158.9 479.7 L159.6 480.5 L159.2 479.9 L160.5 480.9 L158.9 480.8 L158.4 480.2 L158.5 480.5 L156.9 481.0 L158.8 481.0 L156.8 480.5 L158.5 481.4 L156.1 479.0 L157.7 480.9 L158.6 480.2 L156.6 481.0 L157.1 481.3 L157.4 481.1 L155.6 480.3 L157.0 479.4 L156.3 479.8 L157.1 478.8 L159.7 479.3 L159.6 479.7 L159.4 478.3 L159.6 478.6 L159.2 479.0 L158.9 478.5 L160.0 479.6 L161.8 479.2 L160.0 479.5 L161.0 478.2 L160.8 478.9 L161.0 478.9 L160.9 480.6 L160.7 480.5 L160.7 480.5 L160.9 482.3 L161.0 482.0 L161.9 480.7 L161.3 479.8 L163.1 481.3 L163.8 479.7 L161.8 482.2 L163.1 481.4 L163.1 481.8 L161.7 480.9 L163.8 480.5 L163.6 482.0 L163.9 481.9 L164.1 480.3 L162.5 482.0 L163.1 480.7 L162.7 479.3 L163.7 480.3 L162.1 481.9 L163.9 482.1 L161.7 479.3 L162.7 479.4 L164.1 480.8 L164.4 481.2 L165.2 480.0 L165.1 481.0 L166.0 480.3 L164.6 481.1 L166.5 482.4 L165.2 481.9 L164.0 481.1 L164.5 483.0 L165.3 483.1 L164.7 481.9 L166.3 482.8 L164.9 482.6 L165.0 482.6 L165.8 482.7 L165.7 483.6 L166.4 486.4 L166.6 484.5 L166.7 483.8 L167.0 482.8 L165.5 485.8 L164.9 484.3 L165.3 483.3 L164.4 483.2 L165.2 485.9 L165.3 483.9 L165.4 483.5 L164.8 483.9 L163.7 484.5 L162.9 485.6 L163.3 484.3 L162.8 485.3 L162.3 485.1 L162.8 482.3 L163.9 482.3 L163.6 482.3 L164.0 482.7 L163.2 482.7 L162.4 483.3 L163.2 483.7 L162.6 482.6 L161.1 482.4 L160.8 482.6 L162.5 483.3 L161.2 482.5 L162.7 482.8 L161.5 482.8 L161.2 482.9 L162.8 482.9 L161.8 481.5 L161.0 483.6 L162.8 482.2 L160.6 484.0 L161.3 484.9 L161.8 485.3 L162.1 483.6 L160.2 485.6 L161.5 484.0 L162.1 485.4 L161.8 483.0 L162.0 484.7 L161.9 484.1 L161.9 483.9 L161.6 482.8 L161.1 484.1 L159.7 485.0 L162.7 483.8 L161.7 485.1 L162.8 484.6 L160.6 488.0 L160.8 487.1 L162.4 486.4 L160.1 485.7 L160.9 486.4 L161.4 485.3 L162.1 486.4 L162.7 486.1 L161.6 486.9 L162.4 488.5 L161.2 489.7 L161.5 488.0 L161.7 488.4 L161.7 489.3 L163.2 489.3 L164.0 489.0 L163.3 489.7 L163.4 487.7 L162.9 489.2 L163.5 489.8 L163.7 487.5 L164.0 486.5 L163.1 486.5 L164.1 485.5 L163.8 485.9 L163.8 487.3 L163.3 485.7 L161.6 486.5 L163.1 484.9 L162.9 485.9 L162.4 487.1 L165.7 487.2 L164.4 487.5 L164.6 486.2 L166.8 487.1 L165.3 486.6 L165.2 487.3 L164.5 488.2 L165.6 485.3 L165.6 485.4 L166.8 487.3 L165.2 486.2 L166.6 486.5 L167.7 487.7 L167.4 485.4 L166.5 486.5 L166.5 486.6 L166.5 486.3 L167.5 486.8 L167.8 486.2 L168.6 488.3 L165.8 488.5 L167.6 488.2 L167.1 488.9 L166.1 489.5 L166.4 489.2 L166.1 489.3 L164.4 489.0 L164.9 488.9 L164.7 488.7 L166.5 486.8 L166.7 487.0 L164.5 487.8 L166.4 489.1 L165.6 489.3 L165.1 488.0 L164.7 487.8 L165.2 490.1 L165.4 490.1 L163.9 490.0 L166.5 491.6 L164.3 490.8 L164.5 491.9 L166.0 489.5 L163.8 491.0 L164.2 490.2 L166.6 490.6 L167.5 490.9 L167.2 491.4 L167.9 491.4 L167.5 492.7 L167.0 493.0 L166.3 491.2 L165.3 493.8 L164.2 493.3 L164.5 492.0 L165.5 493.1 L165.4 492.9 L165.7 492.8 L166.3 493.9 L166.8 492.0 L165.2 492.3 L165.1 493.0 L165.9 491.9 L165.2 492.5 L165.8 492.5 L163.1 491.3 L162.3 493.8 L163.8 492.7 L165.1 491.1 L163.4 494.2 L163.0 492.9 L162.9 491.3 L163.2 493.3 L162.9 493.6 L162.0 492.7 L163.4 491.8 L164.1 492.5 L163.4 493.3 L162.9 491.2 L162.4 491.2 L163.2 491.5 L161.2 490.2 L160.4 491.3 L162.5 490.0 L161.0 492.3 L160.5 491.4 L162.2 489.8 L161.4 489.3 L161.3 490.6 L162.2 490.4 L160.6 491.3 L161.3 490.7 L161.4 491.8 L160.2 493.3 L161.7 491.4 L160.5 492.9 L160.6 492.5 L161.4 493.6 L161.6 494.0 L162.1 493.6 L161.4 492.4 L159.5 491.4 L157.6 491.4 L158.7 492.8 L160.4 492.3 L159.9 492.2 L160.2 492.8 L159.3 491.9 L157.9 492.2 L159.4 491.3 L159.4 492.2 L158.5 491.4 L156.9 491.8 L157.7 490.9 L158.4 493.3 L157.8 491.9 L157.3 493.3 L157.1 490.1 L157.1 490.0 L157.7 490.9 L157.3 492.3 L159.1 490.7 L157.1 491.0 L158.2 491.3 L158.3 490.3 L158.6 490.3 L159.6 490.2 L158.2 490.8 L158.4 490.6 L160.0 491.2 L159.6 490.5 L159.5 489.2 L159.2 488.3 L159.6 489.9 L159.1 488.2 L158.9 488.9 L160.3 487.6 L159.8 487.9 L161.1 488.7 L160.5 488.5 L159.1 488.3 L158.0 487.2 L159.7 488.0 L159.1 487.6 L159.3 486.4 L159.9 486.3 L159.6 487.0 L160.8 487.4 L158.5 486.4 L159.6 486.3 L159.7 486.9 L160.0 486.6 L158.4 487.1 L157.3 486.2 L157.1 486.0 L158.2 486.3 L156.7 485.9 L157.3 488.6 L158.2 489.1 L157.1 488.9 L158.4 488.1 L157.3 488.9 L155.8 489.7 L156.4 489.7 L156.6 487.6 L157.1 488.4 L156.6 490.2 L157.7 489.5 L157.9 488.5 L157.2 488.0 L158.9 487.4 L156.9 487.5 L154.6 487.3 L153.9 489.5 L155.4 489.3 L155.2 488.8 L154.7 489.4 L155.3 488.2 L155.6 489.1 L156.7 486.6 L155.0 487.3 L155.5 486.4 L154.9 487.0 L155.2 486.4 L155.3 485.9 L156.7 486.1 L154.7 486.5 L153.7 486.4 L153.2 487.7 L154.0 487.8 L154.7 487.0 L154.3 485.9 L152.8 486.5 L155.1 486.8 L153.1 485.9 L153.1 486.6 L153.7 488.6 L154.2 488.8 L154.3 489.0 L153.8 487.5 L153.7 488.0 L154.6 489.6 L153.5 489.9 L154.6 488.9 L152.8 487.4 L153.5 489.1 L153.5 487.7 L152.9 489.4 L154.9 490.1 L155.9 490.8 L154.5 489.6 L155.1 490.5 L156.4 491.0 L155.3 490.9 L156.0 489.1 L154.8 490.4 L154.7 489.9 L156.1 491.2 L156.2 491.0 L155.2 493.1 L155.0 492.4 L156.2 492.4 L155.9 492.0 L158.7 493.8 L157.4 494.5 L159.1 494.5 L159.7 496.3 L158.6 494.5 L160.5 495.1 L159.5 493.5 L159.3 495.2 L159.3 495.5 L159.6 494.7 L158.4 493.9 L159.5 494.3 L159.3 495.6 L159.5 494.2 L158.9 494.7 L160.4 495.7 L159.6 495.5 L159.3 496.3 L159.5 494.5 L161.6 493.3 L160.2 495.3 L161.8 494.1 L161.9 495.6 L160.7 493.8 L159.7 494.5 L160.4 494.7 L161.7 494.0 L164.0 495.0 L162.6 495.4 L164.5 495.6 L163.0 494.1 L163.4 494.1 L164.4 494.8 L163.5 495.0 L163.1 494.7 L161.7 495.6 L162.7 495.0 L162.5 493.9 L162.5 494.9 L164.8 493.5 L164.2 494.0 L165.6 495.7 L166.5 493.7 L165.0 492.9 L166.1 494.1 L164.0 494.6 L163.8 494.0 L164.2 493.8 L165.2 494.5 L166.5 494.2" stroke-width="1.0"/>
<path class="cv" d="M166.4 494.6 L166.9 496.5 L165.7 496.3 L164.7 496.6 L165.4 496.0 L164.7 495.2 L165.8 496.8 L164.9 497.1 L165.1 496.5 L165.3 494.8 L164.5 495.2 L163.9 497.2 L164.7 497.9 L165.3 496.7 L164.2 498.1 L166.4 497.3 L167.6 499.1 L166.4 500.8 L165.1 501.2 L165.3 499.7 L165.4 500.3 L165.7 499.5 L165.0 500.3 L166.7 500.2 L165.0 499.8 L163.5 500.7 L164.2 501.8 L164.8 501.5 L163.8 501.9 L165.0 503.2 L164.5 501.1 L163.6 501.9 L164.9 500.6 L165.6 501.3 L167.9 502.8 L167.3 501.4 L168.8 503.5 L167.4 502.2 L168.0 501.7 L168.1 503.1 M164.4 505.4 L164.4 504.9 L164.0 504.6 L165.6 506.0 L167.3 504.5 L166.6 504.5 L166.3 503.7 L166.7 504.8 L167.4 502.8 L166.4 505.3 L166.1 503.9 L165.8 504.3 L168.1 502.5 L165.4 502.6 L164.4 505.5 L164.7 503.6 L163.7 504.5 L165.7 504.0 L164.5 504.3 L165.0 504.2 L164.6 503.2 L163.6 504.6 L163.3 503.0 L163.7 503.2 L160.6 505.1 L161.6 504.7 L161.1 504.2 L161.5 504.2 L159.6 502.7 L160.8 504.7 L163.2 505.5 L163.5 505.6 M158.4 505.9 L157.8 504.9 L159.1 503.6 L159.5 502.6 L158.1 505.1 L157.9 504.9 L160.2 504.7 L158.5 502.9 L158.6 503.6 L158.0 504.1 L157.9 503.9 L155.7 503.2 L157.0 503.9 L157.2 503.8 L155.7 504.5 L157.2 503.9 L158.2 504.6 L157.3 503.9 L158.0 501.6 L157.2 500.5 L159.9 499.1 L158.0 500.7 L159.8 498.8 L158.7 499.5 L157.7 499.0 L159.9 499.7 L158.8 500.2 L158.2 501.9 L159.7 501.2 L157.6 502.3 L158.0 501.6 L157.8 500.8 L159.9 502.4 L157.7 502.4 L160.9 502.7 L161.3 500.7 L161.2 503.6 L160.9 502.0 L161.4 502.3 L162.1 502.6 L160.9 501.4 L161.3 501.8 L163.8 503.0 L163.1 502.3 L163.0 501.0 L163.1 501.8 L162.4 502.2 L163.8 503.5 L162.7 502.8 L163.5 502.4 L162.4 501.7 L161.7 501.3 L163.8 500.0 L162.5 499.1 L162.8 500.0 L163.7 501.3 L160.2 501.5 L162.4 499.0 L160.2 499.9 L159.9 496.9 L160.0 498.5 L161.2 498.2 L161.2 498.8 L160.7 498.1 L163.5 498.8 L164.7 499.1 L162.9 496.9 L162.9 496.1 L161.0 496.9 L160.7 495.9 L160.9 496.4 L161.3 497.0 L162.5 497.6 L160.7 497.1 L162.3 496.8 L162.0 494.7 L161.0 496.2 L160.3 496.3 L160.2 496.3 L159.4 495.3 L158.2 497.3 L157.8 497.5 L157.5 498.0 L157.9 497.2 L158.3 498.7 L158.7 498.8 L158.9 499.6 L159.8 497.5 L158.5 497.9" stroke-width="1.0"/>
<path class="cv" d="M166.4 507.5 L166.4 509.2 L167.3 507.7 L166.4 509.0 L166.5 510.0 L165.8 509.1 L165.1 507.7 L165.6 509.2 L165.0 509.5 L165.3 508.2 L166.4 508.1 L166.1 508.8 L164.5 509.0 L165.9 508.6 L165.0 506.9 L165.7 506.7 L166.0 505.6 L167.1 507.0 L165.3 507.5 L164.3 507.2 L165.5 505.6 L166.5 505.6 L166.7 505.0 L163.0 506.0 L162.7 506.1 L164.0 506.8 L163.5 508.2 L164.5 505.5 L164.8 507.0 L163.9 506.3 L162.4 506.1 L162.8 506.1 L163.6 505.9 L161.5 506.4 L162.1 506.5 L162.0 507.5 L161.6 506.4 L161.8 506.3 L161.3 506.9 L161.2 506.5 L161.8 506.6 L162.8 509.7 L161.4 507.8 L161.3 508.6 L162.7 508.8 L161.4 507.8 L162.4 509.1 L161.4 508.9 L162.5 509.1 L162.5 508.4 L162.8 508.2 L162.2 510.1 L163.5 508.8 L163.5 509.7 L163.4 508.2 L165.0 508.8 L163.6 508.8 L165.0 508.5 L163.3 510.3 L164.4 507.5 L164.0 510.6 L163.6 510.4 L163.7 512.4 L164.6 511.5 L164.1 510.3 L164.0 511.3 L162.8 511.6 L164.3 510.4 L164.0 510.7 L164.9 512.0 L163.0 511.5 L161.2 511.5 L160.4 510.6 L162.6 511.0 L161.3 510.0 L161.1 511.5 L160.5 511.5 L162.9 510.5 L161.0 511.1 L161.3 511.7 L163.5 510.7 L162.5 511.0 L160.0 512.0 L161.0 512.9 L160.5 513.3 L162.4 511.9 L162.3 512.2 L160.8 512.3 L162.6 513.6 L161.6 513.7 L161.7 511.5 L160.9 513.9 L163.9 512.6 L162.8 513.0 L162.3 511.5 L164.0 512.5 L164.7 513.1 L163.4 512.5 L162.9 512.5 L165.6 512.2 L164.4 514.4 L164.4 514.3 L166.2 511.8 L165.9 512.3 L166.6 512.6 L164.6 512.9 L165.8 513.8 L166.2 512.4 L165.9 512.4 L167.0 512.9 L165.3 512.7 L165.3 513.6 L165.0 511.5 L164.9 510.2 L165.8 511.4 L164.9 510.1 L165.2 511.3 L166.5 510.1 L165.7 511.0 L166.6 512.7 L166.8 510.3 L165.3 511.3 L165.4 508.9 L166.6 510.8 L167.1 511.1 L166.2 509.9 L167.1 510.3 M166.1 513.8 L166.0 516.1 L168.1 515.8 L167.4 518.2 L167.3 516.0 L167.6 515.6 L166.5 517.1 L165.9 518.0 L166.9 515.0 L164.6 516.4 L164.6 516.7 L166.1 515.8 L166.1 516.2 L165.7 516.7 L165.4 516.4 L165.5 517.9 L166.5 515.1 L166.7 514.1 L166.4 515.4 L164.3 514.5 L164.4 513.6 L165.1 514.9 L164.7 514.4 L162.9 514.8 L162.9 515.6 L163.7 515.7 L165.1 515.5 L165.1 516.0 L163.3 513.5 L162.9 513.8 L164.7 514.1 L164.3 515.3 L163.7 514.4 L165.2 514.6 L164.1 516.2 L163.4 515.6 L164.8 514.8 L163.9 515.1 L162.7 514.1 L161.1 514.6 L162.6 515.4 L161.7 513.7 L161.5 514.5 L161.4 515.5 L160.7 515.6 L160.7 514.4 L161.9 513.4 L161.6 514.1 L160.3 514.4 L161.6 515.5 L160.8 513.7 L161.5 513.7 L162.0 515.6 L162.0 513.3 L160.8 514.6 L162.4 517.0 L161.0 515.4 L162.8 518.1 L162.6 517.3 L160.4 516.4 L161.6 517.5 L160.6 517.0 L161.3 517.2 L162.4 516.8 L161.9 515.6 L161.8 516.4 L164.2 516.2 L163.4 517.2 L163.5 516.6 L162.9 516.0 L163.7 517.6 L163.7 516.7 L163.9 517.1 L165.1 516.8 L162.1 517.3 L162.1 517.7 L162.9 518.0 L163.7 516.7 L162.4 515.0 L163.3 517.6 L162.1 516.7 L164.5 517.6 L164.7 519.9 L164.4 519.4 L164.1 520.0 L163.6 518.7 L162.8 519.6 L163.2 518.9 L162.7 519.2 L164.3 520.0 L163.0 519.2 L162.9 518.4 L164.3 519.6 L162.8 517.5 L165.2 519.9 L162.3 519.4 L161.9 519.2 L160.6 519.3 L162.8 520.1 L162.6 518.7 L161.9 519.6 L162.2 519.4 L161.4 518.9 L162.4 520.1 L161.3 517.7 L160.8 520.2 L161.1 522.3 L161.0 520.8 L161.5 521.4 L162.5 520.2 L161.6 521.8 L162.2 520.2 L162.6 522.2 L160.7 522.4 L162.1 520.2 L161.1 520.9 L161.4 520.1 L162.4 520.8 L162.4 521.9 L160.8 520.2 L162.4 520.5 L161.9 520.4 L164.0 520.9 L162.4 520.1 L165.4 519.1 L164.6 520.4 L165.8 520.7 L165.7 521.5 L166.8 519.9 L165.5 519.3 L166.1 521.6 L165.4 519.8 L164.9 521.4 L166.7 519.5 L166.2 518.9 L166.1 519.1 L166.1 518.3 L164.8 518.7 L166.7 518.5 L165.8 518.6 L165.6 518.6 L166.3 518.5 L165.7 519.3 L163.9 517.7 L167.0 518.5 M160.5 527.6 L161.4 527.7 L162.4 525.2 L162.1 527.5 L161.5 528.0 L163.4 526.6 L163.2 526.5 L162.7 526.2 L162.2 526.5 L162.2 526.7 L163.1 526.7 M165.0 522.7 L164.2 522.0 L166.0 522.6 L163.8 524.3 L163.3 523.4 L163.5 522.4 L163.6 521.4 L162.7 521.3 L165.3 522.9 L164.8 522.6 L164.5 523.4 L163.1 524.8 L163.6 524.8 L162.5 525.7 L163.2 524.8 L163.1 524.7 L163.1 525.7 L162.8 523.6 L162.2 526.0 L161.1 525.3 L161.1 525.7 L160.9 525.9 L163.2 524.6 L161.3 525.8 L160.1 524.6 L160.5 525.2 L162.6 522.8 L162.0 523.0 L161.1 523.7 L162.1 522.7 L161.7 522.8 L161.8 523.1 L162.8 523.3 L161.6 521.1 L162.4 522.3 L160.9 523.8 L159.5 524.2 L161.2 524.0 L159.4 522.6 L160.9 521.7 L159.5 521.5 L159.2 523.6 L161.2 523.9 L160.0 523.1 L158.7 523.0 L160.3 521.6 L160.5 522.9 L158.9 525.4 L160.2 524.7 L158.4 525.9 L158.7 525.4 L159.4 523.4 L159.5 524.9 L157.0 525.7 L158.0 525.0 L157.3 524.9 L157.4 524.0 L157.9 524.4 L158.9 524.9 L156.8 524.7 L156.1 525.6 L159.1 524.1 L159.2 524.3 L157.5 522.5 L156.3 523.1 L158.8 522.1 L158.6 523.3 L157.7 523.5 L157.6 521.5 L157.1 522.9 L157.7 523.3 L157.6 524.0 L156.6 523.2 L156.1 524.1 L155.6 522.8 L154.1 524.1 L154.6 524.0 L157.4 522.3 L155.5 522.5 L153.2 522.7 L152.9 522.2 L153.2 522.5 L153.9 521.9 L153.8 521.4 L154.6 522.9 L154.3 523.5 L153.8 522.7 L153.1 522.4 L154.0 525.8 L153.3 524.6 L153.4 524.3 L153.4 525.6 L153.4 525.4 L153.9 524.1 L156.5 526.0 L154.6 525.6 L156.6 524.1 L154.5 525.1 L155.4 525.2 L154.4 524.4 L156.8 525.6 L155.3 525.5 L154.6 526.7 L155.0 526.5 L155.0 526.6 L155.4 525.2 L154.0 527.7 L155.6 526.2 L156.0 527.1 L155.5 528.2 L153.1 528.1 L154.3 528.1 L153.2 527.2 L153.8 528.2 L153.6 527.2 L154.1 528.3 L153.4 528.6 L153.6 528.5 L154.5 528.9 L153.4 528.8 L154.6 528.4 L155.7 528.6 L155.2 528.4 L156.1 528.8 L156.7 527.9 L157.4 528.2 L157.6 530.5 L158.4 528.5 L157.9 528.0 L157.8 529.3 L157.4 530.1 L157.0 528.2 L157.8 528.8 L156.9 528.5 L157.0 528.7 L157.1 528.2 L159.0 526.7 L157.2 527.8 L156.9 527.0 L156.8 527.1 L157.9 526.4 L159.0 526.4 L157.1 525.6 L157.5 525.9 L157.3 526.7 L158.9 525.7 L159.1 527.8 L158.3 527.0 L160.1 526.5 L159.6 526.3 L160.3 529.1 L160.3 528.1 L159.3 527.9 L159.7 528.5 L159.4 528.8 L160.1 528.9 M145.5 525.0 L147.0 526.7 L146.7 525.9 L146.6 527.3 L149.2 528.1 L147.1 527.1 L146.8 526.5 L149.6 527.8 L149.8 527.3 L152.8 528.2 L152.6 527.5 L151.4 525.9 L151.2 526.8 L150.5 526.8 L152.4 528.7 L152.9 526.9 L151.7 527.6 L153.0 525.7 L150.9 527.6 L152.1 526.3 L149.4 527.6 L150.2 527.5 L149.6 526.4 L148.7 527.5 L150.6 528.2 L150.9 526.9 L149.5 526.7 L150.3 525.9 L148.2 524.0 L149.4 523.4 L151.0 524.3 L150.0 524.4 L148.6 526.0 L150.0 525.0 L150.1 523.9 L150.8 526.2 L149.0 524.6 L150.6 524.1 L151.1 523.9 L153.0 525.7 L151.2 524.7 L152.3 526.1 L152.4 525.7 L152.9 525.6 L152.1 524.0 L151.0 524.7 L150.1 524.5 L151.6 524.1 L151.9 525.1 L152.6 522.6 L152.1 523.8 L151.5 522.1 L152.9 523.6 L151.5 523.2 L151.5 523.1 L150.5 522.0 L151.5 524.4 L151.5 523.6 L153.2 522.6 L152.0 521.9 L150.9 523.7 L153.1 523.1 L150.7 522.4 L150.3 522.0 L150.6 522.8 L149.8 521.8 L151.3 523.5 L149.4 522.6 L151.2 522.5 L151.2 522.1 L150.6 524.4 L147.3 522.2 L146.9 522.1 L147.0 523.3 L145.9 523.3 L147.7 523.4 L147.3 522.5 L148.3 522.7 L147.4 522.0 L148.0 521.6 L149.0 522.1 L146.7 523.3 L147.4 521.4 L148.1 523.5 L147.4 522.8 L146.7 523.3 L148.0 524.4 L147.8 524.4 L147.8 523.4 L149.3 525.1 L147.3 525.4 L147.9 526.4 L146.1 525.6 L148.2 525.5 L147.7 525.1 L148.0 524.6 L146.9 524.4 L146.4 525.7 L144.9 525.1 L145.3 525.0 L144.7 523.7 L145.1 525.1 L146.9 524.3 L144.8 522.7 L146.4 522.3 L146.9 522.2 L144.9 523.9 L146.8 521.9 L145.6 523.1 L145.4 522.7 L146.7 522.0 L146.2 520.1 L144.7 521.2 L146.6 520.6 L148.1 521.5 L147.1 520.1 L148.3 521.1 L148.3 521.6 L146.5 520.7 L148.6 522.6 L147.1 521.5 L147.9 519.5 L147.5 521.2 L146.6 520.0 L146.7 520.7 L148.7 518.9 L147.0 517.4 L147.8 519.7 L147.7 518.2 L147.7 518.3 L149.3 518.8 L148.7 518.9 L148.1 517.8 L148.5 519.0 L146.8 518.3 L146.3 519.1 L145.6 518.6 L145.4 519.3 L146.7 518.2 L147.8 516.6 L147.6 514.2 L148.3 513.2 L148.1 515.4 L148.2 514.0 L146.3 514.9 L148.8 513.5 L146.6 515.0 L148.4 516.1 L146.6 515.6 L147.9 515.4 L147.7 515.3 L148.6 515.6 L148.1 516.4 L147.4 517.7 L148.0 517.7 L147.0 517.7 L147.4 515.3 L148.3 516.2 L148.2 517.9 L149.5 517.2 L149.4 516.6 L150.1 516.7 L148.7 515.4 L150.0 516.0 L149.8 516.4 L148.9 515.5 L150.0 516.6 L148.2 515.6 L149.0 517.0 L148.5 516.9 L148.7 515.8 L150.2 513.5 L148.0 514.8 L149.9 515.0 L149.9 514.5 L150.5 514.9 L149.9 514.7 L151.2 515.3 L149.6 514.9 L149.4 515.1 L149.0 513.4 L149.4 513.3 L150.1 513.6 L150.6 515.2 L152.7 514.7 L150.3 513.6 L151.9 516.0 L152.3 516.3 L150.6 514.0 L151.5 514.6 L152.4 515.1 L151.3 515.1 L150.9 517.5 L152.2 517.2 L152.0 516.4 L151.3 516.4 L151.2 516.9 L152.4 517.9 L151.1 517.0 L150.2 518.4 L151.3 518.8 L151.3 520.1 L152.9 519.5 L150.1 519.2 L151.2 518.5 L152.4 518.7 L150.9 518.6 L152.2 519.4 L153.2 518.4 L152.0 518.8 L151.2 520.4 L150.7 518.4 L148.3 518.9 L149.6 520.4 L150.0 519.8 L149.4 518.9 L149.9 518.9 L149.8 518.9 L151.3 519.0 L150.8 518.4 L148.3 517.8 L149.5 518.3 L150.9 520.5 L150.4 522.0 L151.2 521.2 L149.9 520.0 L150.5 522.4 L148.9 519.6 L150.8 519.2 L148.5 520.4 L149.2 521.5 L151.5 520.4 L153.1 521.6 L152.4 521.3 L151.7 519.9 L152.6 522.2 L151.3 520.4 L152.3 521.0 L153.8 519.5 L153.6 520.8 L154.0 520.0 L154.4 521.3 L155.4 520.9 L154.9 520.5 L153.2 520.4 L154.1 520.5 L154.0 518.0 L154.3 519.6 L153.4 519.3 L154.8 518.9 L152.9 519.8 L153.8 517.6 L152.4 518.8 L153.0 518.8 L154.0 517.3 L153.3 519.9 L153.9 518.5 L153.7 518.1 L154.6 519.5 L155.2 518.8 L156.1 519.0 L156.3 517.2 L154.1 518.3 L155.6 518.7 L154.8 518.4 L156.2 518.9 L156.3 519.9 L154.8 518.5 L155.4 521.6 L156.8 520.4 L154.8 520.6 L156.3 520.9 L154.7 520.3 L156.1 520.4 L156.9 519.8 L157.5 520.9 L156.4 520.9 L157.7 520.3 L157.7 521.5 L156.7 520.7 L158.8 521.1 L158.7 522.4 L159.6 520.9 L159.5 521.2 L160.9 520.6 L160.9 521.3 L161.2 521.2 L159.9 520.1 L159.8 520.1 L159.5 521.1 L160.2 521.2 L159.4 521.1 L158.9 519.5 L158.9 518.3 L160.2 518.5 L161.1 519.5 L160.9 519.0 L159.7 518.7 L159.9 519.7 L159.6 519.4 L159.2 519.9 L160.9 519.5 L160.5 519.5 L157.0 518.8 L157.4 519.3 L157.4 518.9 L157.4 518.5 L158.0 519.5 L157.7 517.1 L157.2 516.8 L158.4 516.1 L157.5 516.8 L156.7 515.0 L158.9 517.2 L158.7 516.1 L158.5 515.9 L158.9 516.3 L158.5 516.6 L158.8 517.2 L160.3 516.2 L160.5 516.8 L160.8 515.8 L160.3 517.7 L159.0 515.9 L159.7 517.3 L159.8 514.4 L160.4 515.3 L158.9 514.8 L158.5 513.3 L160.9 514.2 L161.2 514.1 L160.5 515.1 L160.2 514.8 L160.2 514.5 L159.2 514.0 L160.8 514.2 L159.3 514.7 L157.2 516.1 L158.2 515.7 L158.1 514.0 L158.7 515.4 L156.9 516.2 L156.6 514.7 L158.1 514.3 L158.0 513.4 L157.1 515.0 L158.2 515.7 L158.3 513.4 L157.4 514.1 L155.6 514.8 L155.9 513.8 L155.5 515.2 L155.5 515.9 L156.3 515.0 L156.5 514.2 L156.1 514.0 L155.3 514.6 L155.0 515.9 L154.6 514.2 L155.7 515.6 L155.9 517.8 L156.4 516.9 L156.5 515.7 L155.0 516.8 L156.2 517.1 L156.2 516.3 L156.3 516.1 L155.3 515.6 L155.9 517.3 L156.5 517.2 L154.0 516.1 L153.3 516.0 L153.4 516.4 L152.4 518.0 L154.2 515.6 L153.5 516.7 L153.9 516.3 L153.6 517.4 L153.2 516.1 L154.4 515.3 L153.7 514.0 L152.9 515.3 L154.2 514.3 L153.8 513.6 L154.3 514.2 L154.9 514.1 L154.1 511.9 L154.0 513.5 L155.0 512.2 L153.8 512.9 L153.8 511.3 L153.6 512.7 L154.5 511.9 L153.6 512.4 L154.0 512.7 L154.0 513.2 L154.0 511.6 L153.2 512.1 L154.8 510.9 L153.8 510.2 L153.4 510.7 L154.1 511.6 L153.9 512.0 L152.2 511.4 L153.3 511.4 L153.5 510.6 L154.5 510.4 L153.7 509.4 L153.4 511.1 L153.8 509.0 L155.7 509.4 L155.8 509.7 L155.9 511.7 L154.8 509.8 L155.5 511.2 L157.1 509.5 L155.2 509.4 L156.1 511.4 L153.9 514.2 L154.4 513.7 L156.2 513.1 L155.6 512.5 L156.6 512.5 L156.4 513.5 L155.9 513.7 L154.6 513.2 L155.5 512.8 L156.8 512.4 L158.8 512.8 L157.9 512.9 L157.1 513.6 L158.0 513.7 L156.7 511.4 L157.9 512.1 L157.6 513.8 L158.9 512.4 L159.3 512.5 L161.1 512.9 L160.6 512.9 L160.9 512.8 L159.7 513.3 L160.1 512.6 L160.4 509.3 L160.6 510.2 L161.4 510.9 L157.3 511.7 L157.1 510.4 L157.3 510.8 L157.1 511.1 L157.2 509.2 L158.6 509.4 L158.5 511.6 L158.7 511.6 L158.1 512.3 L157.9 508.4 L156.7 509.6 L158.1 508.9 L158.6 509.6 L159.1 508.3 L157.7 509.4 L157.9 508.7 L157.9 509.0 L158.2 508.9 L160.5 508.6 L160.7 508.8 L160.6 507.8 L159.7 509.3 L160.2 509.3 L159.5 509.1 L159.3 507.4 L159.6 509.3 L160.0 508.9 L159.1 507.7 L159.2 509.1 L160.3 510.5 L159.6 507.8 L159.3 507.4 L160.2 506.8 L159.4 505.8 L159.0 507.9 L160.6 506.1 L159.4 506.4 L160.6 505.7 L160.3 506.6 L158.3 506.3 L157.7 506.5 L157.5 508.0 L156.8 506.4 L157.0 507.0 L156.2 506.9 L155.1 506.6 L154.8 505.9 L155.6 507.4 L155.7 506.7 L155.5 506.1 L156.8 505.2 L155.0 507.8 L155.0 507.3 L155.4 507.7 L156.2 509.6 L154.5 507.8 L156.4 509.2 L155.8 509.9 L155.3 508.2 L156.0 507.9 L156.5 508.6 L154.4 510.4 L153.2 508.7 L152.6 508.9 L154.0 508.4 L153.7 508.2 L153.5 508.5 L154.1 508.8 L152.3 508.9 L154.7 505.4 L154.2 507.6 L153.8 505.5 L153.7 505.4 L154.5 507.0 L152.3 508.0 L152.2 506.6 L151.7 507.6 L152.8 506.1 L151.9 506.8 L150.7 508.1 L150.0 510.0 L148.9 509.2 L150.1 508.4 L150.6 508.5 L149.4 508.5 L151.4 508.9 L151.8 509.2 L151.8 508.4 L151.7 508.6 L152.6 508.6 L151.2 508.6 L151.7 508.3 L151.4 510.1 L151.5 509.0 L151.4 508.4 L153.2 508.6 L150.5 509.9 L151.2 508.3 L151.6 507.8 L151.6 508.5 L152.2 508.6 L152.0 508.7 L151.7 511.7 L151.0 510.7 L152.8 511.2 L151.6 510.5 L150.9 511.9 L151.1 510.6 L152.4 510.7 L151.5 513.2 L151.6 513.9 L151.9 513.9 L150.7 511.5 L150.7 513.1 L151.3 511.9 L152.2 511.8 L151.7 512.8 L152.3 512.3 L151.3 514.2 L150.8 513.7 L149.4 513.2 L148.0 511.9 L150.6 511.5 L149.8 514.0 L151.3 511.4 L149.6 513.1 L150.1 513.0 L148.3 513.4 L149.7 513.2 L149.0 512.1 L148.7 510.7 L149.9 509.8 L149.3 510.4 L149.1 510.7 L151.0 511.0 L149.3 510.7 L148.5 511.9 L148.4 510.3 L147.9 510.1 L148.3 510.8 L148.5 512.7 L146.5 512.9 L148.4 512.6 L148.5 512.2 L148.5 513.9 L147.6 512.9" stroke-width="1.0"/>
<path class="cv" d="M159.6 530.7 L158.7 532.0 L160.0 533.7 L159.2 533.7 L159.0 533.5 L158.5 534.7 L158.8 534.4 L159.6 535.3 L159.3 533.3 L159.0 533.0 L160.8 532.8 L161.0 532.2 L159.7 531.9 L159.3 532.7 L160.2 532.5 L160.0 531.8 L159.7 533.6 L160.4 534.8 L161.0 534.5 L161.4 534.6 L159.1 534.8 L161.3 533.2 L161.3 533.8 L162.9 535.0 L163.6 532.9 L163.0 535.0 L161.8 533.8 L162.1 532.9 L162.6 530.9 L163.2 532.3 L161.5 531.9 L163.1 532.2 L161.7 532.9 L162.7 531.8 L163.3 531.0 L161.7 530.0 L162.8 531.0 L162.6 530.4 L163.7 529.4 L161.6 529.3 L159.7 529.7 L160.5 529.9 L161.2 529.6 L159.8 531.1 L160.5 530.4 L160.4 530.0 L160.7 530.3 L160.0 531.2 L160.4 530.5 L160.0 531.5 L161.5 529.3 L161.8 528.4 L161.8 528.5 L162.5 527.6 L161.9 528.7 L162.4 528.7 L162.0 529.0 L162.9 528.3 L162.5 528.6 L163.6 528.6 L164.4 529.8 L166.2 527.4 L165.6 531.1 L165.2 530.3 L165.2 528.6 L164.7 530.5 L165.0 530.4 L165.6 529.3 L165.2 530.0 L164.4 530.8 L164.2 529.6 L164.2 530.0 L166.9 530.4 L167.6 529.0 L166.1 530.5 L166.3 531.6 L165.7 529.8 L165.5 531.4 L165.2 530.2 L165.8 530.5 L165.2 528.5 L166.5 528.6 L167.1 529.5 L167.3 528.5 L170.3 530.5 L167.5 530.4 L169.9 532.0 L168.0 531.3 L168.0 530.5 L167.2 532.4 L168.4 532.7 L167.0 533.1 L169.4 530.6 L168.8 533.2 L170.6 532.1 L170.1 533.0 L170.5 533.7 L170.6 533.3 L169.0 533.9 L169.5 535.2 L170.1 534.2 L169.0 534.2 L170.5 533.6 L168.5 532.8 L168.2 533.8 L166.8 533.5 L168.9 535.6 L169.4 534.3 L167.1 534.2 L165.6 535.1 L166.1 534.0 L165.7 535.8 L167.0 535.3 L167.3 533.4 L165.3 530.9 L166.2 533.6 L167.2 534.0 L167.0 532.9 L165.2 531.5 L166.0 532.3 L164.5 531.6 L164.6 532.2 L163.8 532.1 L165.8 532.4 L163.6 533.4 L163.0 533.7 L165.4 531.5 L164.4 532.7 L164.4 531.4 L165.5 535.2 L163.3 534.9 L164.5 533.5 L163.1 533.8 L165.4 535.2 L164.9 534.3 L165.3 534.5 L163.4 536.8 L165.3 534.8 L164.2 535.8 L164.9 536.0 L164.7 536.7 L163.6 535.3 L163.4 537.3 L163.9 537.1 L165.0 538.7 L166.6 537.3 L166.3 537.6 L166.5 537.8 L165.5 538.7 L164.9 538.4 L165.0 538.5 L165.7 539.7 L165.3 539.2 L166.4 539.0 L166.8 538.1 L167.8 538.1 L165.7 536.9 L167.5 535.7 L167.3 536.3 L167.8 535.8 L165.8 536.2 L166.4 537.4 L166.6 535.1 L165.4 536.6 L165.7 537.7 L168.0 536.8 L167.7 535.7 L167.7 535.6 L170.0 535.7 L170.3 536.8 L168.1 535.6 L169.5 536.3 L167.5 536.0 L171.1 536.1 L171.0 537.3 L170.3 539.1 L169.1 539.3 L168.3 538.6 L168.1 537.7 L167.9 539.0 L168.0 538.2 L169.1 538.4 L167.2 537.2 L167.6 538.8 L169.8 538.8 L168.2 537.7 L169.0 538.5 L169.2 537.4 L167.0 539.7 L170.0 538.9 L168.6 539.1 L169.5 541.5 L167.7 542.0 L168.8 539.8 L170.1 539.2 L170.5 541.7 L169.3 542.0 L169.9 540.5 L170.8 542.6 L170.2 542.3 L170.0 542.8 L170.0 541.5 L169.9 542.9 L169.6 543.2 L170.9 541.3 L168.8 542.7 L167.6 543.3 L168.0 542.4 L167.9 541.7 L167.2 543.1 L169.2 542.6 L168.2 542.0 L167.1 541.4 L166.4 543.1 L167.3 541.2 L166.5 543.2 L165.7 543.6 L168.1 542.2 L165.9 543.2 L165.7 541.7 L167.3 540.7 L165.8 539.4 L167.1 540.2 L166.4 540.4 L164.0 540.6 L164.2 540.6 L163.7 540.2 L164.7 541.3 L164.6 542.7 L163.6 542.5 L165.0 542.0 L164.1 543.0 L164.6 542.2 L165.6 541.7 L164.2 542.6 L162.5 543.4 L163.3 542.2 L162.6 542.6 L161.7 541.2 L163.2 542.3 L160.3 542.7 L159.0 541.5 L160.1 543.1 L161.5 542.4 L159.5 543.0 L160.2 542.4 L161.4 542.2 L161.7 540.9 L160.1 540.6 L159.1 541.7 L159.6 540.7 L161.5 540.8 L160.4 539.6 L160.5 541.2 L160.2 540.5 L160.9 539.3 L163.9 541.4 L161.3 540.4 L162.5 540.2 L161.7 538.4 L162.6 537.7 L161.9 536.8 L162.4 539.2 L163.0 537.9 L163.5 538.5 L160.7 537.1 L162.5 538.1 L162.9 536.8 L161.1 536.9 L162.5 537.5 L162.2 536.1 L161.7 537.2 L161.8 537.3 L161.5 536.6 L163.0 535.4 L159.9 535.7 L161.4 536.7 L160.7 536.7 L160.3 536.9 L160.0 538.9 L159.2 538.3 L161.5 538.6 L161.9 538.7 L159.7 538.6 L160.1 538.3 L161.1 537.7 L159.2 537.3 L160.4 539.0 L159.3 537.7 L161.3 538.8 L160.2 538.8 L160.6 538.5 L158.3 538.5 L158.3 539.2 L159.0 538.4 L158.6 538.7 L157.9 537.6 L158.0 537.8 L159.3 537.4 L159.1 538.0 L159.0 537.3 L159.1 536.4 L159.3 536.2 L157.9 536.9 L156.3 538.4 L156.6 536.9 L157.0 537.0 L158.1 538.0 L155.9 539.2 L156.6 541.0 L157.2 540.6 L157.3 541.4 L156.3 541.2 L156.2 539.7 L155.6 540.3 L156.4 539.8 L158.7 541.3 L158.9 541.4 L158.2 540.4 L157.3 541.0 L159.5 540.1 L159.2 540.2 L159.4 540.1 L158.9 540.6 L159.3 541.1 L158.5 542.8 L158.2 543.4 L158.9 543.8 L158.7 542.6 L158.2 542.9 L156.6 543.2 L156.7 542.0 L157.4 544.0 L155.8 542.0 L156.7 543.8 L157.6 542.2 L157.6 544.4 L155.9 544.4 L157.5 546.1 L157.2 547.1 L157.6 545.5 L155.9 547.3 L156.8 545.7 L157.9 546.6 L158.5 546.3 L159.1 546.7 L157.6 545.7 L158.4 547.5 L159.4 546.4 L157.5 544.3 L158.4 544.8 L159.4 544.6 L157.3 544.2 L159.5 544.0 L159.2 544.4 L158.9 545.2 L160.2 544.5 L160.2 544.7 L161.4 544.3 L160.6 544.7 L160.7 544.5 L161.5 544.7 L159.7 544.4 L161.1 543.7 L159.9 543.3 L160.0 544.4 L159.4 544.5 L163.5 545.1 L161.2 544.4 L163.0 544.9 L162.5 545.4 L160.9 545.0 L161.8 545.5 L162.4 544.7 L163.2 542.9 L162.5 543.8 L164.1 545.9 L162.9 547.7 L161.6 545.3 L163.4 546.3 L162.6 546.3 L161.3 547.7 L162.5 545.4 L162.4 547.1 L161.2 547.6 L160.9 547.4 L160.1 546.6 L160.4 545.8 L161.6 545.5 L160.2 548.3 L160.9 549.0 L161.1 548.6 L159.7 548.5 L159.8 548.4 L160.4 549.0 L163.3 548.1 L162.3 548.8 L161.6 547.8 L162.1 548.5 L163.2 549.6 L162.4 548.4 L161.7 547.5 L163.5 548.8 L163.2 548.8 L163.3 549.4 L163.2 549.1 L162.2 551.5 L162.6 550.9 L161.6 550.4 L160.0 551.1 L159.5 549.8 L161.1 551.4 L158.8 550.4 L159.4 550.2 L160.2 550.4 L157.3 550.2 L158.7 550.1 L158.7 550.7 L159.5 550.5 L157.2 549.0 L157.4 550.0 L158.2 550.0 L158.9 550.0 L159.7 548.7 L158.0 551.3 L158.6 549.8 L159.8 550.5 L157.9 550.5 L158.3 549.0 L159.1 548.1 L159.0 548.4 L158.0 547.1 L156.7 548.5 L156.0 548.9 L155.4 548.6 L156.7 547.7 L157.3 548.6 L155.3 547.9 L157.3 547.8 L156.9 548.4 L155.8 551.0 L156.7 550.4 L155.8 548.8 L156.2 550.3 L156.7 549.5 L156.8 550.7 L156.9 551.9 L159.3 552.2 L159.1 552.9 L159.1 553.3 L158.7 553.0 L158.6 551.5 L159.3 553.2 L159.8 552.9 L160.2 551.2 L159.3 553.3 L159.8 551.8 L161.5 552.9 L159.7 550.8 L161.8 553.9 L161.4 552.4 L163.5 552.1 L162.0 553.5 L162.9 552.4 L162.5 551.9 L164.0 552.0 L163.2 552.0 L165.5 551.8 L165.4 552.3 L166.9 551.1 L168.2 549.3 L168.9 548.8 L168.1 547.8 L168.3 548.6 L168.7 548.4 L167.5 550.0 L165.0 550.2 L166.9 549.6 L166.8 549.2 L166.3 550.8 L166.9 549.2 L164.5 549.4 L163.7 549.3 L163.8 551.0 L164.6 547.1 L164.1 549.1 L164.5 548.4 L164.7 546.8 L166.0 547.9 L164.6 547.0 L163.6 547.1 L163.6 548.0 L164.9 548.2 L166.8 547.0 L166.2 546.7 L166.9 547.0 L165.2 548.2 L165.6 549.4 L166.3 548.9 L166.6 548.1 L165.9 545.7 L166.3 546.8 L164.5 547.4 L163.4 546.0 L164.6 545.9 L163.9 545.1 L165.0 547.0 L164.5 544.6 L164.4 545.3 L164.0 545.4 L166.9 545.4 L167.0 544.5 L166.2 544.5 L167.1 544.2 L166.6 542.7 L166.3 544.9 L167.1 543.4 L165.1 544.2 L168.2 545.1 L169.4 543.6 L169.0 545.1 L169.1 544.5 L169.2 543.8 L169.7 545.4 L168.2 547.3 L169.2 546.4 L167.8 546.7 L168.6 546.7 L169.1 546.0 L169.7 545.3 L169.2 546.0 L170.0 546.1 L169.8 546.5 L169.0 545.1 L170.1 546.7 L170.5 543.0 L169.6 544.3 L169.8 544.5 L170.2 544.0" stroke-width="1.0"/>
<path class="cv" d="M173.0 529.5 L174.2 531.7 L172.9 528.8 L172.4 529.3 L172.9 531.0 L173.2 530.7 L172.6 528.9 L173.6 531.3 L172.6 533.4 L173.4 532.3 L171.7 531.2 L172.9 532.9 L174.3 532.9 L171.8 530.5 L171.8 533.7 L174.0 531.5 L175.1 532.3 L175.5 531.7 L175.1 532.5 L173.8 533.6 L174.8 532.1 L175.6 533.1 L175.0 531.2 L175.2 531.3 L175.6 531.4 L174.7 531.0 L175.2 531.9 L176.1 532.4 L175.5 531.3 L175.3 529.7 L174.0 530.5 L174.9 529.6 L175.4 529.3 L175.5 531.1 L173.8 529.7 L176.5 530.6 L176.8 530.4 L177.0 530.4 L177.7 531.0 L176.3 531.3 L178.4 531.1 L176.8 528.6 L177.5 531.5 L177.5 528.9 L177.1 530.3 L176.2 529.7 L178.5 530.3 L179.8 529.5 L179.2 531.2 L178.8 530.0 L177.9 530.4 L180.0 529.5 L179.3 531.4 L180.0 530.1 L180.0 530.5 L178.5 533.2 L179.7 530.8 L179.0 532.3 L179.2 531.5 L176.5 533.1 L177.5 532.2 L176.4 531.8 L177.5 530.9 L175.7 532.5 L175.5 531.3 L177.6 531.4 L176.2 534.4 L179.6 533.4 L179.3 532.5 L179.2 533.7 L179.4 533.2 M175.2 534.0 L175.7 533.4 M181.4 533.3 L180.7 533.2 L181.6 533.4 L182.9 533.4 L183.3 533.6 L184.0 534.6 L183.3 533.9 L181.4 533.0 L182.0 533.0 L182.8 534.2 L183.0 534.1 L183.8 531.6 L182.7 531.4 L183.6 531.8 L181.8 532.5 L182.1 532.6 L183.6 530.6 L181.8 532.3 L184.1 533.7 L182.2 533.3 L182.7 531.9 L183.1 531.0 L183.6 531.5 L183.3 531.6 L181.0 531.7 L180.8 532.1 L181.7 533.9 L180.9 530.6 L182.5 532.5 L181.4 531.7 L181.2 530.0 L180.5 529.1 L181.1 531.8 L181.5 530.7 L181.0 530.0 L181.2 529.3 L180.3 530.6 L182.4 530.9 L181.2 530.5 L182.2 529.9 L183.1 530.9 L182.9 529.5 L183.4 530.6 L183.4 531.1 L182.9 529.6 L184.0 531.1 L183.7 530.4 L184.7 531.2 L183.5 530.3 L184.7 531.7 L184.4 532.2 L184.2 531.5" stroke-width="1.0"/>
<path class="cv" d="M166.3 520.9 L166.6 520.3 L167.1 519.1 L168.5 518.7 L169.3 518.9 L170.3 518.1 L171.2 519.1 L173.2 518.7 L173.6 519.3 L174.1 520.7 L175.4 522.1 L175.6 523.5 L175.0 524.0 L174.6 525.4 L174.5 526.1 L173.3 527.5 L172.5 527.8 L171.4 528.2 L169.8 528.2 L168.4 527.8 L167.5 527.3 L166.7 525.9 L166.0 525.0" stroke-width="1.0"/>
<path class="cv" d="M554.4 441.1 L556.1 448.9 L555.8 455.0 L555.8 461.1 L557.0 471.6 L557.6 475.0 L559.1 479.0" stroke-width="0.9"/>
<path class="cv" d="M554.4 441.1 L556.1 448.9 L555.8 455.0 L555.8 461.1 L557.0 471.6 L557.6 475.0 L559.1 479.0" stroke-width="1.9" stroke-dasharray="0 3.3"/>
<path class="cv" d="M559.2 478.8 L559.4 479.7 L559.8 480.7 L560.3 481.6 L560.6 482.7 L561.0 483.7 L561.3 484.8 L562.1 485.8 L563.1 486.4 L564.2 485.9 L565.0 485.4 L565.1 484.4 L565.2 483.3 L565.5 482.3 L565.9 481.1 L566.4 479.8 L566.9 478.4 L567.2 479.3 L568.1 480.8 L568.4 481.8 L569.1 482.9 L569.2 483.6 L568.8 484.7 L569.1 485.8 L568.6 486.6 L568.3 488.2 L568.1 489.1 L568.0 490.2 L567.6 490.9 L567.4 492.2 L567.7 493.0 L567.2 494.0 L567.6 494.7 L567.7 495.9 L568.0 496.7 L568.2 497.9 L568.4 499.1 L568.3 499.8 L567.8 500.9 L567.6 502.2 L566.7 502.8 L565.9 503.5 L565.2 504.3 L564.0 504.8 L563.3 505.9 L562.9 507.3 L562.6 508.2 L561.9 508.7 L560.8 509.4 L560.1 510.0 L561.1 511.2 L562.3 512.1 L561.1 512.5 L560.2 513.2 L559.4 513.6 L558.7 514.1 L559.6 514.8 L560.3 515.9 L561.0 516.7 L560.0 516.8 L559.5 517.5 L558.7 518.1 L557.4 518.3 L557.2 519.4 L556.3 520.5 L556.1 521.5 L556.7 522.2 L558.1 522.4 L559.0 521.6 L559.7 520.5 L560.1 520.0 L561.1 519.1 L561.6 517.7 L562.2 516.7 L562.3 515.9 L563.0 514.8 L563.3 513.8 L563.7 512.9 L563.9 512.2 L564.2 510.8 L565.3 512.3 L565.7 513.3 L565.7 514.4 L565.9 515.7 L566.2 516.6 L566.0 517.5 L565.9 519.1 L565.1 520.1 L565.3 521.2 L565.0 522.5 L564.9 523.4 L564.9 524.8 L565.3 525.6 L565.3 526.8 L565.4 527.7 L565.6 529.1 L565.9 530.0 L565.7 531.4 L565.8 532.5 L566.3 533.2 L566.4 534.4 L566.2 535.6 L566.7 536.9 L566.6 538.0 L567.0 538.8 L567.1 540.2 L567.0 541.5 L566.8 542.4 L567.2 543.2 L567.0 544.6 L567.1 545.6 L567.1 546.7" stroke-width="1.6"/>
<path class="cv" d="M569.1 537.9 L570.3 533.9 L573.5 529.1 L575.9 524.4 L575.1 520.4 L573.1 516.0" stroke-width="1.1"/>
<path class="cv" d="M567.5 540.0 L571.1 537.9 L575.9 535.5 L581.4 532.3 L586.2 529.9 L590.2 530.7 L591.4 533.9 L590.2 538.7 L589.8 544.3 L590.6 549.8 L591.4 554.6 L593.5 556.9 L595.3 565.6 L597.9 574.3 L599.6 583.0 L601.7 592.6" stroke-width="0.75"/>
<path class="cv" d="M567.5 540.0 L571.1 537.9 L575.9 535.5 L581.4 532.3 L586.2 529.9 L590.2 530.7 L591.4 533.9 L590.2 538.7 L589.8 544.3 L590.6 549.8 L591.4 554.6 L593.5 556.9 L595.3 565.6 L597.9 574.3 L599.6 583.0 L601.7 592.6" stroke-width="1.9" stroke-dasharray="0 3.3"/>
<path class="cv" d="M560.4 514.1 L559.4 512.8 L558.5 510.7 L560.0 512.3 L557.9 512.2 L557.8 512.2 L558.4 511.2 L558.7 509.5 L559.2 509.0 L560.4 510.5 L559.5 509.6 L558.8 509.4 L559.5 510.3 L560.7 508.6 L561.4 510.0 L562.1 510.2 L560.4 509.9 L561.6 509.9 L561.3 509.7 L563.5 510.1 L561.8 510.2 L562.9 508.2 L562.5 509.7 L563.1 508.8 L562.3 509.2 L562.5 509.6 L562.8 511.7 L563.1 511.9 L563.9 512.1 L562.6 511.6 L563.5 511.2 L561.2 510.9 L560.2 511.2 L560.5 514.2 L560.3 513.2 L562.3 513.5 L563.1 514.9 L563.8 514.7 L563.0 515.0 L562.3 514.8 L560.4 515.8 L561.1 515.8 L560.7 515.9 L558.9 516.3 L558.6 514.3 L557.6 512.3 L557.8 513.0 L557.4 514.0 L557.1 514.3 L557.3 516.5 L556.1 518.2 L559.5 518.4 L559.7 517.1 L558.6 518.7 L557.9 518.5 L559.0 518.6 L557.3 519.2 L558.9 520.8 L559.3 520.5 L558.5 520.9 L559.5 521.1 L561.2 519.1 L560.5 519.7 L561.1 517.4 L562.0 517.1 L562.2 516.8 L563.7 514.9 L564.1 513.5" stroke-width="1.0"/>
<circle cx="556.8" cy="522" r="1.6" fill="#000"/><circle cx="567.1" cy="545.5" r="1.6" fill="#000"/><path d="M565.5 483 L566.8 478 L568.6 482.5 Z" fill="#000" stroke="#000" stroke-width="1.2"/>
<path class="cv" d="M42.0 834.0 L42.5 834.1 L42.4 833.4 L42.6 833.4 L42.4 833.4 L42.6 833.6 L43.2 833.7 L43.5 833.6 L44.1 833.8 L44.1 833.4 L44.1 833.1 L43.5 833.3 L43.7 833.4 L43.7 833.4 L44.6 833.6 L45.1 833.2 L45.0 833.3 L44.7 833.3 L44.6 833.9 L44.7 834.0 L44.5 833.6 L44.6 833.5 L44.6 833.3 L45.4 834.0 L45.8 834.4 L45.7 834.4 L46.2 834.6 L46.6 834.6 L47.0 834.7 L47.5 835.0 L48.3 834.8 L48.6 835.3 L48.9 835.4 L48.6 835.6 L49.0 834.8 L49.8 834.7 L49.8 835.1 L49.9 835.0 L49.3 835.1 L49.4 834.9 L49.2 835.1 L48.9 835.6 L48.8 835.5 L49.1 836.1 L49.5 836.0 L49.1 836.4 L48.4 836.7 L48.8 836.8 L49.8 836.1 L50.4 836.6 L49.7 837.2 L48.7 837.3 L48.2 838.3 L47.7 838.7 L46.7 839.0 L46.3 838.6 L45.9 838.4 L45.7 837.7 L45.6 838.0 L45.7 837.9 L45.5 838.5 L45.0 838.3 L44.9 838.1 L44.7 837.6 L43.8 837.4 L43.4 837.4 L43.0 836.8 L42.4 836.0 L42.0 836.1 L41.4 836.3 L41.3 836.5 L41.3 836.9 L41.7 836.6 L42.6 835.4 L42.9 835.5 L43.1 835.0 L43.4 834.9 L44.0 834.7 L44.7 834.0 L45.4 833.6 L45.4 833.2 L46.2 833.2 L46.5 833.6 L46.5 834.1 L46.6 835.4 L45.6 835.8 L45.2 836.3 L45.5 837.3 L45.8 837.3 L45.8 837.3 L46.1 837.4 L46.2 838.0 L45.8 838.4 L45.6 838.4 L45.7 838.2 L45.2 838.8 L45.1 838.6 L45.4 838.4 L45.3 839.1 L45.6 839.3 L45.7 839.3 L46.3 839.4 L46.8 839.6 L46.7 840.1 L46.6 840.8 L46.7 841.7 L46.2 841.9 L46.1 841.1 L45.6 841.1 L45.2 841.4 L45.1 842.0 L45.0 842.9 L44.7 843.5 L44.4 842.8 L43.6 842.3 L43.5 843.0 L43.5 843.3 L43.6 843.8 L44.1 844.2 L44.7 844.1 L45.0 844.6 L45.6 844.8 L45.7 844.8 L45.7 844.6 L45.7 844.8 L46.5 845.1 L47.4 845.4 L47.6 846.2 L47.7 846.6 L48.0 847.0 L47.8 846.6 L48.3 845.7 L48.5 845.5 L48.5 845.3 L48.5 845.2 L48.5 845.6 L48.4 845.0 L48.4 845.4 L48.4 845.2 L48.6 845.5 L48.9 845.4 L49.0 845.5 L48.5 845.3 L48.8 845.6 L48.8 846.1 L49.5 846.0 L50.3 846.1 L51.0 845.4 L51.9 845.6 L52.7 845.1 L52.7 845.3 L52.7 846.0 L53.0 846.2 L53.0 846.5 L53.1 845.7 L52.9 845.0 L52.7 844.4 L52.5 843.2 L52.0 842.9 L51.6 842.6 L51.8 842.5 L51.3 842.5 L51.2 842.2 L51.6 842.5 L52.1 843.0 L52.8 843.1 L52.9 842.5 L52.9 841.9 L52.4 841.5 L51.9 841.6 L51.8 842.0 L51.1 841.4 L50.3 841.6 L50.2 841.3 L50.0 841.4 L50.0 841.5 L49.8 841.5 L49.0 841.5 L48.6 841.0 L49.3 841.4 L50.1 841.8 L49.9 841.6 L49.9 842.1 L49.9 841.8 L50.3 841.4 L50.6 841.0 L50.5 841.2 L50.7 841.3 L51.1 841.8 L51.1 842.0 L51.5 841.9 L51.4 841.9 L50.8 842.4 L50.4 842.8 L50.9 842.7 L51.4 842.7 L51.7 842.6 L52.0 842.8 L52.8 842.5 L53.2 842.2 L53.7 842.7 L54.3 842.7 L55.4 843.0 L56.0 843.0 L56.4 843.2 L56.1 843.2 L55.6 843.2 L55.8 843.3 L55.6 842.9 L55.6 842.9 L55.5 843.2 L55.3 843.8 L55.5 843.7 L55.3 843.0 L55.5 842.6 L55.5 842.9 L55.6 843.1 L55.5 842.4 L56.0 841.9 L56.4 841.7 L56.8 841.2 L57.0 840.7 L57.2 840.4 L57.6 839.5 L57.5 839.4 L57.2 839.7 L56.9 840.0 L56.7 839.6 L57.0 839.6 L57.1 839.2 L56.5 839.1 L55.9 838.5 L56.2 838.0 L56.2 837.7 L56.8 837.2 L57.6 836.6 L57.6 837.0 L57.6 837.5 L57.4 837.1 L57.6 837.5 L57.4 837.4 L58.0 837.5 L58.9 837.7 L59.5 837.3 L59.3 837.3 L58.5 836.8 L58.9 836.3 L59.3 836.3 L59.6 836.2 L59.9 835.9 L60.4 835.9 L60.4 836.2 L60.6 836.7 L61.2 836.6 L61.4 836.7 L61.3 836.7 L61.8 837.0 L62.2 837.7 L63.4 838.5 L63.2 839.2 L63.8 839.4 L64.4 839.1 L64.2 839.2 L64.0 839.5 L64.5 839.2 L64.3 839.1 L64.5 838.6 L64.6 838.9 L64.6 839.2 L64.4 839.5 L64.2 839.5 L64.0 839.8 L63.9 840.3 L64.1 840.2 L63.8 840.2 L64.0 840.2 L64.2 840.8 L65.2 841.1 L65.0 841.0 L63.8 841.4 L63.3 840.9 L62.6 840.8 L62.0 840.5 L61.7 840.7 L60.8 840.7 L60.3 841.3 L60.7 842.0 L61.0 841.9 L60.9 841.3 L60.0 841.4 L59.9 841.5 L60.2 842.0 L60.1 841.8 L59.6 841.4 L59.0 841.0 L58.4 840.7 L58.1 840.8 L58.4 841.2 L58.6 840.9 L58.4 840.4 L58.4 840.2 L59.0 840.1 L59.3 840.1 L59.0 839.8 L58.6 839.4 L58.6 839.7 L58.3 838.9 L58.1 839.1 L58.0 838.8 L58.7 838.7 L59.1 838.6 L60.1 838.9 L60.9 839.2 L61.2 839.5 L61.2 839.6 L61.0 839.4 L61.5 839.1 L62.2 839.2 L62.8 839.6 L63.1 838.7 L62.6 838.3 L62.7 837.6 L62.3 837.0 L62.5 836.8 L62.3 837.5 L62.9 837.7 L64.0 837.7 L64.4 837.5 L64.6 837.9 L64.6 837.8 L64.9 838.1 L65.2 838.1 L65.7 838.6 L66.3 838.8 L66.8 839.5 L66.6 839.5 L66.5 839.3 L67.2 838.4 L67.9 838.2 L68.3 837.5 L69.2 837.3 L69.5 837.3 L70.5 837.5 L70.1 837.2 L69.8 837.7 L70.0 838.3 L70.5 838.5 L70.3 838.7 L70.4 839.1 L70.3 839.5 L70.1 839.3 L69.9 839.0 L69.7 838.8 L70.3 838.1 L70.3 837.6 L70.6 837.9 L70.9 838.2 L71.4 837.6 L71.7 837.4 L72.4 838.0 L72.7 838.2 L73.5 838.3 L74.8 838.2 L75.3 837.4 L75.5 837.3 L75.2 837.8 L74.9 838.0 L74.8 838.8 L75.3 838.9 L76.0 838.6 L76.2 838.4 L75.5 838.7 L75.3 838.3 L75.4 838.6 L75.4 838.8 L75.4 839.0 L75.4 839.4 L74.4 839.9 L73.2 840.8 L72.8 840.9 L72.1 840.7 L71.9 840.2 L71.8 840.2 L71.1 840.3 L70.7 839.9 L70.2 840.1 L69.9 840.0 L69.8 839.9 L69.5 839.9 L69.4 840.1 L69.4 840.0 L69.6 840.0 L69.2 840.1 L69.5 839.8 L69.3 839.8 L68.5 839.6 L68.2 840.2 L67.4 840.9 L67.4 840.9 L67.5 840.2 L67.1 840.2 L67.2 839.9 L66.7 839.6 L67.0 839.7 L67.5 840.2 L67.8 840.3 L67.4 840.8 L66.5 840.4 L66.3 839.2 L66.1 839.2 L64.9 839.4 L64.2 839.7 L63.6 839.8 L63.9 840.2 L63.3 840.6 L63.3 840.9 L63.8 841.4 L63.3 841.7 L63.3 841.7 L62.8 842.0 L62.5 843.0 L62.1 843.4 L61.6 843.3 L61.5 843.0 L62.3 842.2 L62.1 841.8 L62.0 842.1 L62.1 842.3 L61.9 842.8 L62.0 842.6 L62.2 842.7 L62.6 843.2 L62.4 842.8 L61.7 843.4 L61.9 844.1 L61.6 844.0 L61.2 843.9 L60.8 844.3 L60.2 844.2 L60.0 844.8 L60.0 845.4 L60.2 845.7 L60.6 845.8 L61.2 846.6 L61.1 847.0 L60.4 847.3 L60.1 847.1 L60.6 847.1 L61.3 847.6 L61.8 847.3 L61.6 847.8 L61.5 848.4 L62.2 848.5 L62.7 848.5 L62.7 848.4 L61.9 849.0 L61.7 848.5 L62.0 848.9 L63.0 848.7 L63.6 848.2 L63.8 848.9 L64.1 849.6 L64.5 849.9 L64.7 850.4 L64.5 850.1 L65.0 849.5 L65.1 849.8 L64.9 850.1 L65.2 849.8 L65.2 849.4 L65.2 849.8 L65.4 849.9 L65.8 850.2 L66.2 850.9 L66.7 851.1 L67.3 851.0 L67.8 851.3 L68.0 851.9 L67.6 851.5 L68.2 851.0 L68.1 850.4 L68.6 849.9 L67.9 849.9 L68.1 849.9 L68.4 850.5 L68.2 850.5 L68.0 850.4 L67.8 850.4 L68.0 849.7 L68.5 849.5 L68.2 849.4 L68.3 849.8 L68.6 850.0 L69.1 849.6 L69.6 848.8 L70.3 848.4 L70.4 848.2 L70.2 848.3 L69.5 848.4 L69.0 848.7 L69.1 849.2 L69.9 849.5 L70.5 848.5 L71.5 848.2 L72.6 848.7 L72.7 849.2 L73.3 849.9 L73.3 849.6 L73.8 848.7 L73.9 847.7 L74.0 847.7 L74.4 847.1 L74.5 846.7 L74.3 846.7 L73.9 846.7 L73.9 846.7 L74.1 847.1 L74.2 847.4 L74.6 847.7 L74.3 847.8 L74.8 848.7 L74.9 848.1 L75.7 847.5 L76.5 847.2 L76.6 847.0 L77.0 847.3 L77.2 847.4 L78.0 848.0 L78.3 848.1 L78.5 848.3 L77.6 848.2 L77.8 848.7 L77.5 849.1 L77.3 849.0 L78.3 849.6 L78.9 849.7 L79.9 849.8 L80.2 849.5 L80.8 849.4 L80.8 849.5 L80.4 849.8 L80.0 850.2 L80.2 850.2 L80.6 850.6 L80.9 850.5 L80.5 851.3 L80.7 851.6 L80.8 852.1 L81.3 852.8 L81.1 852.7 L80.5 852.2 L80.3 852.2 L79.7 852.5 L79.0 853.0 L78.6 853.4 L78.2 853.5 L78.2 854.1 L78.4 854.2 L78.3 854.4 L78.4 854.5 L78.0 855.5 L77.9 855.5 L77.9 855.2 L78.1 855.3 L78.4 855.5 L77.6 856.2 L77.7 856.2 L77.4 855.8 L77.4 855.6 L77.2 855.5 L77.1 856.1 L76.8 856.6 L76.5 856.9 L76.2 857.6 L76.3 857.2 L75.8 857.5 L76.4 857.8 L76.1 857.4 L76.1 857.5 L75.7 858.3 L75.4 858.2 L75.4 858.0 L75.4 858.2 L74.4 858.5 L74.7 858.6 L74.4 858.1 L74.5 858.3 L74.5 858.2 L74.5 858.1 L74.8 857.9 L73.9 857.5 L72.9 856.9 L72.8 855.8 L72.9 855.5 L72.9 855.4 L73.1 855.8 L73.5 856.1 L73.9 856.1 L73.5 856.3 L73.3 856.3 L72.9 855.8 L72.6 855.7 L72.0 855.7 L71.5 855.5 L70.9 854.9 L70.3 854.2 L70.6 853.5 L70.3 853.1 L70.4 852.7 L69.9 852.8 L70.3 852.9 L71.2 853.3 L71.5 853.2 L71.7 853.5 L71.4 853.3 L71.1 853.2 L71.1 853.1 L71.5 853.0 L72.1 852.8 L72.5 852.9 L71.8 852.2 L71.7 851.3 L71.4 850.8 L71.7 850.8 L72.0 851.0 L72.4 850.9 L72.7 851.0 L73.4 851.1 L74.2 851.5 L74.5 851.9 L74.6 851.6 L75.7 851.7 L76.7 852.2 L77.3 852.3 L77.4 852.2 L77.5 852.8 L77.4 852.7 L77.3 852.7 L77.5 852.1 L77.3 852.3 L77.1 852.4 L77.2 852.4 L77.3 851.5 L77.8 851.7 L77.7 851.6 L78.0 851.4 L78.4 851.3 L78.9 851.0 L78.5 850.9 L78.9 851.6 L79.3 852.1 L79.7 852.2 L80.2 852.4 L80.7 852.0 L80.8 852.4 L80.8 852.8 L81.3 853.0 L81.9 852.8 L82.1 852.2 L81.8 852.1 L81.8 851.7 L82.1 851.3 L82.6 851.7 L83.0 851.4 L83.6 851.3 L84.0 851.1 L83.8 850.9 L83.1 850.6 L82.9 850.7 L82.0 850.9 L82.4 850.8 L82.8 851.0 L83.3 850.3 L83.3 849.7 L82.9 849.3 L83.0 849.1 L83.7 848.9 L84.6 848.7 L84.9 848.7 L85.6 848.4 L85.8 848.3 L85.7 848.5 L86.1 848.7 L86.0 848.7 L85.2 848.4 L85.7 847.7 L86.0 847.7 L85.5 847.7 L85.7 847.8 L86.2 847.8 L85.6 847.7 L85.9 847.6 L86.2 848.2 L86.7 848.1 L86.9 848.1 L87.5 848.2 L87.9 848.5 L88.6 848.4 L89.2 848.2 L89.4 848.2 L89.9 848.2 L90.1 847.7 L90.2 848.2 L90.2 847.6 L90.4 847.5 L90.8 846.8 L91.4 846.6 L92.2 847.5 L91.8 848.1 L91.9 848.5 L92.8 849.0 L93.2 849.2 L92.5 849.7 L91.9 849.7 L92.0 849.9 L92.0 850.3 L92.6 850.4 L92.8 851.3 L93.1 851.5 L93.3 851.5 L92.8 850.5 L92.5 851.0 L92.6 850.8 L92.4 851.3 L92.5 852.0 L92.4 852.1 L92.4 852.2 L91.6 852.4 L91.5 851.9 L91.0 852.3 L90.8 852.1 L90.6 852.0 L90.9 852.0 L90.4 852.1 L90.1 852.4 L89.8 852.4 L89.5 852.2 L89.1 852.7 L88.6 853.1 L88.3 853.9 L88.4 854.9 L88.0 855.0 L87.8 855.1 L87.5 855.1 L86.9 855.7 L87.3 855.3 L87.8 854.8 L88.1 854.4 L87.6 854.3 L86.6 853.4 L87.0 852.7 L86.3 852.7 L86.5 852.8 L86.7 852.2 L85.9 851.8 L85.0 852.2 L84.5 852.4 L84.6 851.8 L84.4 851.3 L84.2 851.8 L84.1 851.4 L84.3 851.2 L84.7 850.5 L85.2 850.5 L85.6 850.4 L85.1 850.4 L85.3 850.9 L86.3 851.4 L87.0 851.2 L87.4 850.9 L87.7 850.3 L87.9 850.1 L87.8 850.7 L88.1 850.6 L88.1 850.3 L88.0 850.3 L88.3 851.2 L88.3 851.4 L88.4 851.9 L88.5 852.0 L88.5 852.1 L88.5 852.4 L89.5 852.7 L89.9 853.2 L90.5 853.2 L90.5 853.5 L91.1 853.3 L91.2 853.0 L91.2 853.3 L91.2 853.0 L91.3 852.3 L91.6 852.7 L92.1 853.1 L91.8 853.0 L92.2 853.7 L92.2 853.3 L92.9 853.5 L93.6 854.1 L93.9 854.0 L94.8 853.9 L94.9 854.1 L95.0 853.9 L95.2 853.6 L95.5 853.4 L95.4 853.4 L95.4 853.5 L95.3 853.9 L94.9 853.9 L94.3 854.1 L94.8 854.7 L95.2 855.1 L95.6 855.5 L95.6 855.6 L96.2 855.0 L96.2 855.1 L96.4 854.9 L97.1 854.1 L97.3 853.5 L98.3 852.8 L98.5 852.6 L98.3 852.6 L97.8 852.8 L97.8 852.9 L97.4 852.9 L96.8 852.7 L97.9 852.4 L98.2 852.6 L98.2 852.3 L98.9 851.8 L99.5 851.4 L99.2 851.1 L99.4 851.1 L99.0 850.3 L99.4 850.2 L99.2 850.1 L99.4 850.3 L99.6 850.4 L99.8 850.4 L100.4 849.9 L100.4 849.6 L100.5 849.2 L101.0 848.6 L101.3 849.1 L100.9 850.2 L100.9 850.7 L101.3 851.7 L101.2 851.5 L100.8 851.3 L100.7 851.5 L100.6 851.0 L101.5 850.7 L102.2 850.6 L102.9 851.6 L103.6 852.1 L103.8 852.8 L103.6 853.7 L104.1 854.3 L104.5 854.1 L104.7 853.5 L104.7 853.8 L104.8 854.1 L104.9 854.3 L105.1 854.1 L105.2 853.9 L104.9 854.4 L104.1 855.4 L104.1 855.8 L104.2 856.3 L104.1 856.5 L103.6 856.1 L103.2 855.9 L102.9 855.9 L103.3 856.2 L102.9 856.7 L102.3 857.4 L102.4 857.7 L102.8 858.3 L103.2 858.8 L102.6 858.7 L102.0 858.5 L102.3 858.2 L102.5 858.5 L102.3 858.5 L102.4 858.6 L102.2 858.4 L101.8 858.1 L101.4 857.6 L100.4 857.5 L99.8 857.8 L100.0 858.0 L100.1 857.5 L99.7 857.6 L99.5 857.7 L98.7 857.6 L98.6 857.7 L98.2 857.7 L97.8 857.9 L98.8 857.4 L99.3 857.2 L99.1 857.3 L99.2 857.0" stroke-width="1.2"/>
<path class="cv" d="M98.1 851.2 L98.5 852.5 L96.6 855.8 L97.1 856.4 L95.5 854.2 L96.9 856.4 L95.1 857.0 L97.6 857.2 L98.3 856.5 L97.8 854.4 L97.4 854.1 L99.2 855.2 L98.8 855.9 L99.1 854.6 L98.8 854.1 L100.2 854.6 L99.2 856.4 L100.8 856.6 L101.1 855.2 L102.3 854.6 L102.3 853.5 L101.3 851.2 L101.4 851.5 L100.2 851.0 L98.8 853.4 L99.7 852.1 L101.8 851.7 L101.5 850.6 M106.2 851.0 L106.0 850.4 L104.3 851.2 L107.2 850.9 L106.2 853.1 L103.9 854.4 L102.6 854.8 L103.9 857.1 L104.3 856.8 L104.5 858.0 L104.5 856.2 L106.5 854.4 L105.7 855.3 L106.4 855.9 L105.9 855.8 L104.7 855.4 L108.9 855.5 L107.1 854.8 L107.7 854.1 L106.7 856.8 L109.7 855.3 L108.9 854.5 L109.5 852.6 L107.9 850.9 L107.4 850.9 M125.3 846.3 L124.7 847.0 L125.4 846.8 L126.0 845.5 L125.8 847.3 L125.6 848.1 L124.6 849.4 L126.0 848.3 L126.3 849.0 L123.9 849.4 L124.1 849.8 L124.1 848.9 L122.6 848.5 L120.8 848.5 L121.1 848.9 L122.4 848.4 L119.2 848.9 L120.8 850.2 L120.6 849.0 L118.4 851.9 L121.2 853.6 L119.8 852.5 L119.7 854.0 L119.7 851.9 L120.8 852.6 L122.4 852.6 L121.3 852.1 L121.6 854.1 L121.9 852.5 L121.8 852.5 L120.4 850.6 L123.4 851.2 L120.9 852.0 L121.3 849.7 L121.8 852.0 L123.4 851.3 L123.7 850.0 L125.0 851.2 L123.5 851.4 L125.8 850.1 L125.4 850.8 L125.9 852.6 L127.2 854.0 L126.4 853.1 L125.4 853.7 L125.5 856.4 L123.4 854.9 L125.5 853.9 L125.0 855.1 L125.1 857.4 L126.8 857.6 L124.6 857.5 L126.5 856.5 L124.1 855.1 L122.0 855.7 L123.1 855.5 L122.2 855.6 L120.7 856.1 L122.0 854.0 L119.9 854.8 L121.3 855.1 L121.5 854.7 L121.4 856.1 L119.1 855.2 L118.8 856.5 L116.4 856.4 L115.6 857.0 L115.2 855.6 L117.0 854.5 L114.9 853.7 L116.0 855.5 L118.7 856.3 L117.5 853.1 L117.0 852.1 L117.2 851.6 L117.5 851.0 L117.2 850.9 L116.6 851.1 L119.6 850.8 L117.7 850.4 L115.8 850.0 L114.9 852.0 L115.0 854.2 L116.1 852.8 L115.1 851.6 L115.5 852.6 L116.6 851.7 L116.0 853.7 L115.1 853.1 L113.7 853.0 L114.0 853.4 L114.7 852.8 L115.1 852.8 L114.0 852.1 L113.3 851.4 L112.7 852.4 L112.5 852.6 L112.9 852.9 L111.2 853.2 L112.7 854.0 L113.8 856.5 L115.1 854.9 L113.1 853.6 L113.6 856.4 L113.8 856.9 L115.2 857.8 L113.0 855.5 L112.3 857.9 L111.8 857.2 L112.2 856.0 L112.2 856.8 L113.2 857.6 L114.3 859.1 L114.0 858.8 L115.2 860.6 L114.3 860.5 L114.2 859.9 L112.2 860.7 L111.5 859.7 L111.2 861.6 L114.7 862.7 L113.8 863.0 L114.4 862.5 L114.0 861.7 L114.8 862.2 L117.2 864.0 L119.5 864.4 L118.6 864.5 L117.8 861.0 L119.5 862.5 L116.9 863.2 L117.3 862.1 L116.6 862.5 L118.1 862.3 L118.7 862.1 L116.5 859.2 L115.2 861.2 L116.3 859.3 L117.0 859.5 L116.4 860.0 L114.6 857.7 L117.1 858.3 L118.8 859.0 L118.1 858.1 L119.4 858.1 L119.2 858.7 L120.2 858.7 L118.9 859.2 L120.8 861.3 L119.4 861.8 L120.7 860.8 L121.6 860.7 L122.3 860.8 L122.6 857.7 L121.8 857.8 L121.8 858.5 L121.6 859.0 L124.5 858.5 L124.2 859.3 L125.1 859.7 L125.9 860.7 L126.0 860.5 L126.3 859.6 L123.2 861.7 L124.7 860.2 L125.7 860.5 L124.2 861.1 L122.8 862.7 L124.7 863.3 L124.5 862.9 L123.4 863.9 L124.1 864.3 L123.2 864.9 L121.1 864.6 L121.7 865.8 L121.9 864.8 L122.1 865.2 L122.8 863.7 L121.5 861.4 L121.9 862.9 L120.9 863.1 L118.6 861.5 L119.8 863.1 L118.3 864.3 L121.3 865.6 L118.7 863.7 L120.3 864.5 L120.5 865.7 M107.6 862.4 L108.0 862.7 L109.8 861.6 L111.7 862.0 L108.8 863.8 L109.4 861.9 L110.0 860.7 L110.0 861.0 L109.7 862.1 L109.5 860.5 L109.2 858.7 L110.0 857.9 L109.5 858.8 L107.6 860.1 L107.3 858.3 L108.4 856.9 L108.3 858.2 L107.8 860.0 L108.6 859.0 L108.7 861.3 L106.4 861.0 L105.8 860.7 L106.3 861.2 L105.8 859.8 L105.1 858.9 L106.9 859.1 L104.9 860.2 L102.9 860.2 L104.1 860.7 L103.5 862.0 L103.1 863.3 L104.0 862.6 L103.1 863.1 L106.2 862.7 L106.0 861.2 L105.8 862.6 L106.0 861.6 L105.7 863.1 L104.3 863.4 L102.3 864.4 L101.6 864.8 L100.3 862.9 L99.7 862.9 L101.3 862.6 L100.7 862.2 L102.5 862.9 L103.4 861.9 L103.4 859.9 L102.4 857.3 L103.0 857.5 L100.1 859.6 L100.4 858.7 L100.6 862.2 L100.0 860.0 L99.7 861.6 L100.3 862.0 L99.3 860.6 L98.9 861.3 M96.2 858.4 L96.4 859.3 L96.5 860.1 M126.9 857.6 L129.1 857.9 L126.6 858.1 L128.5 857.1 L128.8 857.7 M130.8 854.3 L130.8 856.6 L130.2 856.4 L129.0 857.1 L129.3 857.5 L127.3 855.7 L127.9 856.7 L128.1 854.1 L126.4 855.4 L129.4 855.2 L129.3 855.2 L129.8 854.8 L128.9 854.1 L128.9 854.0 L129.3 851.3 L130.9 853.3 L128.6 852.1 L126.8 853.1 L127.2 849.6 L129.5 851.1 L129.1 850.9 L129.5 851.8 L130.3 850.6 L130.8 850.7 L129.5 851.4 L130.5 853.7 L131.2 853.7 M131.7 845.7 L131.1 847.6 L132.1 846.2 L131.0 850.5 L131.0 847.6 L132.6 848.4 L130.6 848.9 L129.1 849.3 L129.4 848.6 L130.1 847.8 L129.4 848.8 L129.6 847.7 L129.0 848.9 L127.4 848.4 L128.6 847.5 L127.1 846.8 L127.7 846.4 L126.4 847.1 L128.0 846.3 L130.4 846.4 L130.0 848.0 L130.3 848.1 L130.8 845.1 L130.1 843.9 L130.7 843.3 L129.9 843.5 L129.1 844.0 L132.1 842.1 L131.7 844.6 L131.3 844.6 L131.9 845.3" stroke-width="0.9"/>
<path class="cv" d="M139.1 835.1 L138.0 834.9 L135.9 835.4 L136.2 837.2 L138.0 834.6 L137.3 835.7 L136.4 835.9 L136.0 837.6 L137.3 836.5 L136.4 837.9 L137.4 838.0 L138.4 835.4 L138.2 836.0 L138.8 836.9 L137.3 835.4 L138.2 836.8 L138.9 835.4 L138.9 835.5 L139.9 835.2 L140.7 836.2 L139.6 836.8 L139.1 838.4 L138.5 838.0 L137.9 837.5 L140.2 839.0 L137.4 838.2 L140.3 839.8 L138.0 839.5 L137.6 839.1 L135.9 837.7 L136.2 839.3 L138.0 837.1 L135.1 838.4 L133.7 839.9 L135.9 839.6 L135.4 837.5 L136.0 836.2 L135.5 836.5 L135.9 836.9 M131.9 840.4 L133.6 840.3 L134.1 840.9 L133.5 840.0 L134.2 840.7 L135.2 839.6 L133.7 842.3 L134.5 843.1 L134.3 842.3 L135.5 842.6 L135.4 843.2 L136.3 843.7 L135.2 843.4 L134.6 842.4 L133.0 842.1 L132.1 840.8 L132.9 842.0 L134.6 842.5 L132.8 842.7 L133.3 840.9 L133.9 842.1 L133.1 845.1 L132.5 844.6 L131.4 843.6 L131.4 845.0 L132.8 845.4 L131.9 843.3 L133.7 844.3 L132.6 843.9 L133.9 843.8 L132.6 846.0 L133.4 845.9 L132.8 845.6 L134.3 845.2 L135.0 846.4 L135.1 845.6 L135.3 845.7 L134.8 846.7 L135.0 847.3 L135.5 846.6 L136.0 846.7 L134.7 844.6 L135.5 847.7 L135.0 845.4 L135.6 845.5 L134.0 844.8 L134.3 844.0 L133.7 844.0 L135.0 843.6 L136.3 844.3 L135.0 845.8 L136.6 843.1 L137.5 845.4 L137.4 843.8 L136.4 844.9 L136.6 844.5 L137.3 843.5 L137.1 844.3 L136.5 845.8 L136.4 844.9 L136.9 845.0 L136.5 847.0 L135.6 846.3 L135.8 846.6 L136.9 846.1 L139.3 845.4 L139.8 846.7 L138.5 845.0 L139.4 847.3 L138.5 844.8 L140.1 842.6 L137.7 844.1 L138.9 844.5 L138.1 843.0 L140.1 845.2 L137.9 844.8 L137.7 844.1 L138.4 841.9 L139.2 842.2 L137.1 842.4 L137.6 841.7 L140.6 842.8 L139.9 842.2 L136.2 841.6 L136.5 842.4 L138.5 843.3 L136.1 842.2 L137.3 842.0 L137.2 842.6 L136.9 840.5 L136.5 841.7 L137.2 840.2 L136.9 840.4 L136.0 841.6 L138.9 840.6 L140.1 839.8 L138.2 840.0 L139.1 839.4 L138.8 838.7 L140.4 839.1 L141.3 839.6 L141.9 841.4 L142.2 839.7 L140.3 839.9 L141.3 840.5 L141.7 839.9 L143.3 840.2 L143.3 840.2 L144.2 841.4 L142.5 841.2 L142.1 842.6 L142.7 840.6 L144.4 841.6 L144.6 842.2 L141.7 841.0 L143.0 842.5 L141.6 842.4 L140.5 842.4 L141.4 842.9 L142.0 841.9 L140.7 842.7 L141.4 844.3 L141.3 844.3 L140.2 844.3 L141.5 843.9 L141.6 846.7 L139.5 846.1 L140.8 846.4 L141.9 846.2 L144.7 847.5 L143.0 846.2 L143.6 846.8 L142.8 847.7 L143.4 846.5 L142.6 844.7 L142.5 844.5 L144.0 844.1 L142.4 844.2 L143.0 843.4 L143.4 844.6 L146.4 843.7 L146.0 844.2 L145.2 844.9 L145.8 843.9 L145.8 844.0 L145.8 845.4 L146.5 847.1 L145.3 846.7 L147.9 845.2 L147.6 845.4 L145.5 847.0 L147.9 845.8 L148.4 845.9 L147.9 845.9 L147.8 846.3 L146.4 845.2 L147.7 845.9 L148.0 846.4 L147.3 846.4 L147.4 846.7 L146.5 846.4 L146.5 847.0 L146.0 844.8 L146.7 845.7 L147.0 844.8 L148.0 844.9 L147.2 844.3 L148.0 843.0 L146.5 842.9 L146.7 842.5 L147.4 840.9 L146.0 843.3 L146.9 842.4 L146.5 842.4 L146.5 841.2 L147.9 841.7 L146.8 843.0 L147.0 841.6 L145.7 842.2 L146.5 841.7 L146.4 843.4 L144.9 843.4 L144.2 843.1 L145.5 842.5 L146.5 842.4 L145.4 843.2 L144.1 843.3 L144.3 839.5 L144.6 840.8 L144.2 840.5 L145.4 841.6 L146.1 840.2 L147.2 840.2 L146.9 841.6 L147.0 840.4 L147.9 840.5 L146.9 839.8 L145.9 837.9 L146.1 838.8 L147.3 837.4 L148.0 838.4 L145.9 836.3 L147.4 835.9 L147.5 836.3 L146.8 836.8 L147.5 835.9 L148.2 835.7 L147.7 835.9 L146.2 837.1 L145.2 835.4 L143.9 836.8 L144.3 835.3 L145.2 835.6 L145.0 835.7 L144.9 836.7 L144.3 837.6 L145.6 837.7 L145.1 837.7 L143.3 837.2 L142.2 838.8 L143.0 837.5 L142.9 837.7 L142.5 838.7 L143.4 839.5 L140.3 839.1 L142.4 839.4 L142.8 839.2 L139.4 838.0 L139.5 838.1 L141.5 838.7 L142.5 838.0 L142.4 835.6 L141.9 835.2 L140.7 836.7 L140.7 836.7 L140.4 835.5 L140.3 836.5 L142.6 835.8 L140.8 835.7 L143.5 836.5 L142.5 834.8 L141.5 832.8 L141.7 834.1 L140.7 833.9 L141.4 833.8 L141.5 833.2 L141.1 835.3 L141.5 833.6 L140.8 834.2 L141.0 833.6 L140.6 834.0 M145.6 832.2 L146.2 832.2 L145.5 832.4 L145.4 833.6 L145.8 834.5 L146.0 833.2 L144.8 833.9 L146.3 834.4 L146.4 833.0 L146.5 833.2 L147.2 833.2 L146.9 833.1 L149.0 832.3 L149.3 832.4 L149.5 830.9 L149.7 831.4 L149.5 831.9 L149.6 831.0 L151.7 831.9 L150.9 833.0 L151.2 831.3 L150.1 832.4 L149.3 834.4 L151.9 835.4 L151.6 834.9 L151.2 834.8 L151.0 834.7 L150.0 833.8 L150.4 834.3 L150.4 834.0 L149.4 835.2 L150.9 835.5 L151.5 834.6 L150.1 835.0 L149.4 833.4 L149.3 835.3 L148.9 834.5 L148.6 835.1 L148.7 835.1 L148.2 835.6 L148.2 834.2 L148.0 834.9 L148.4 837.5 L149.2 835.2 L147.7 835.8 L149.6 835.6 L149.4 836.1 L149.1 836.0 L148.0 835.7 L148.8 836.4 L149.8 836.1 L149.2 837.0 L149.5 839.2 L148.1 837.2 L148.6 838.8 L148.5 838.4 L151.3 838.4 L151.4 838.5 L150.5 838.1 L151.5 836.8 L150.5 836.4 L151.0 836.2 L153.3 835.1 L152.7 835.5 L152.3 836.9 L153.1 836.4 L151.9 835.7 L152.9 835.5 L152.7 835.5 L153.0 836.2 L152.8 835.2 L153.1 835.1 L152.3 838.2 L153.0 837.1 L153.3 838.0 L154.4 837.1 L154.8 838.4 L154.5 838.4 L154.8 839.6 L154.5 838.6 L154.4 837.3 L154.8 839.4 L155.5 837.2 L154.5 838.3 L155.3 837.2 L155.2 836.6 L154.6 836.0 L154.7 835.2 L155.2 835.7 L155.9 836.8 L155.5 837.5 L154.1 835.6 L153.5 834.8 L152.5 833.4 L154.2 833.6 L153.7 833.7 L153.9 834.3 L154.5 833.8 L152.2 834.6 L153.7 834.9 L152.2 834.5 L153.9 834.2 M158.7 839.0 L158.9 838.5 L159.4 837.9 L158.2 839.1 L157.9 839.1 L155.5 838.4 L157.8 838.1 L157.2 837.4 L157.4 837.3 L156.8 838.0 L156.7 836.7 L158.5 837.3 L157.8 837.6 L156.6 838.0 L156.2 838.7 L156.3 839.2 L158.2 840.6 L158.2 840.1 L157.7 840.6 L157.9 840.0 L158.4 841.4 L157.5 841.4 L155.4 840.1 L156.9 840.6 L156.9 839.8 L156.9 838.9 L156.5 839.2 L157.9 841.1 L158.5 842.8 L156.6 841.8 L157.4 843.9 L159.6 841.2 L157.8 842.5 L157.9 842.1 L158.6 841.9 L158.1 842.3 L159.3 843.2 L158.5 843.3 L157.3 840.4 L160.4 839.6 L158.0 841.3 L159.4 839.9 L160.2 840.2 L158.0 840.2 L159.7 840.2 L160.2 839.2 L160.4 839.2 L159.8 841.1 L160.7 840.5 L161.3 838.6 L161.3 840.4 L162.1 840.4 L161.9 841.1 L162.2 841.5 L162.4 839.8 L163.6 841.6 L162.8 842.9 L161.7 841.4 L159.8 841.0 L161.1 841.7 L162.2 841.7 L161.4 842.8 L160.3 842.1 L162.5 841.0 L161.1 844.1 L160.6 843.2 L161.9 843.7 L161.3 844.1 L162.1 843.7 L161.3 844.5 L160.4 845.4 L159.5 844.7 L162.1 844.6 L164.5 844.2 L162.8 844.9 L163.2 845.7 L163.9 845.8 L163.4 844.3 L161.8 844.9 L162.7 846.2 L162.7 846.7 L161.8 845.1 L162.8 846.0 L164.0 846.0 L161.0 845.8 L162.3 846.9 L161.0 846.5 L160.9 846.9 L158.6 844.6 L158.8 846.2 L158.6 846.6 L159.3 845.4 L159.3 844.9 L159.0 843.8 L158.9 844.2 L159.0 845.1 L158.2 843.3 L158.4 845.6 L160.2 843.5 L156.9 843.7 L158.4 844.5 L157.7 843.8 L157.8 844.8 L158.6 845.5 L157.8 846.4 L156.7 847.5 L158.5 845.2 L156.3 845.5 L154.9 844.8 L155.3 846.6 L154.9 846.5 L154.2 846.9 L152.8 846.3 L151.6 844.6 L152.6 845.4 L153.5 845.4 L153.2 846.8 L152.8 846.8 L153.7 847.8 L152.7 846.2 L152.8 845.2 L152.9 846.4 L154.0 844.2 L153.8 845.3 L153.9 845.1 L152.9 845.1 L153.0 843.4 L152.4 842.7 L154.9 842.7 L155.5 844.6 L155.2 844.1 L155.6 843.8 L155.1 844.9 L154.8 843.9 L155.8 844.2 L154.8 842.7 L154.4 843.3 L155.6 843.8 L155.1 845.3 L155.5 844.6 L154.3 845.6 L154.9 842.2 L155.4 841.2 L154.0 842.1 L155.8 843.1 L156.3 842.1 L155.2 838.9 L154.9 840.1 L155.7 839.5 L153.7 841.6 L154.3 840.5 L152.9 840.0 L153.0 839.4 L152.9 841.6 L153.2 841.2 L154.6 838.6 L152.6 839.3 L152.8 841.1 L153.1 840.2 L153.3 841.7 L152.9 843.6 L153.6 842.9 L152.8 842.9 L152.2 842.1 L153.7 843.6 L150.8 842.2 L149.5 843.5 L152.5 843.2 L150.9 841.5 L152.3 842.0 L152.6 841.8 L150.9 842.2 L150.6 841.3 L150.7 839.4 L150.9 841.8 L150.7 838.8 L150.9 839.9 L150.3 841.0 L152.3 840.1 L151.5 841.8 L152.0 840.3 L150.2 840.2 L147.9 839.2 L150.6 841.1 L148.1 840.6 L149.7 841.6 L149.7 843.0 L148.7 841.9 L149.1 841.7 L150.3 841.5 L148.3 842.1 L148.0 843.0 L149.2 844.6 L150.3 843.6 L148.9 843.2 L149.2 844.7 L148.5 843.9 L148.2 845.7 L147.8 844.4 L150.9 845.4 L152.6 844.3 L150.2 843.1 L150.2 843.8 L151.2 845.2 L151.4 844.9 L151.4 845.2 L151.4 846.6 L150.3 846.4 L149.3 846.3 L150.0 846.5 L152.5 846.8 L150.5 847.2 L150.0 846.5 L150.2 845.3 L148.6 848.0 L147.7 846.0 L148.9 845.7 L147.3 846.6 L149.6 846.4 L148.4 846.3 L147.7 845.2 L149.3 845.6 L148.0 846.7 L148.9 848.0 L149.8 848.4 L148.6 848.0 L149.2 848.2 L148.9 848.6 L147.9 847.7 L148.1 848.1 L147.8 848.2 L150.9 847.6 L152.1 847.0 L149.1 849.1 L151.6 849.5 L150.1 847.2 L151.0 847.8 L151.8 850.2 L150.4 848.5 L151.9 849.9 L150.3 850.9 L152.1 851.0 L149.2 850.3 L148.3 848.7 L149.7 849.8 L150.0 849.6 L148.2 850.0 L148.4 849.7 L148.9 849.2 L148.9 850.2 L149.1 852.3 L149.6 852.3 L149.6 852.1 L150.2 852.7 L150.0 851.2 L150.2 851.0 L148.8 850.7 L149.3 852.1 L151.0 854.3 L151.0 853.6 L150.6 854.1 L151.2 852.5 L151.5 851.7 L150.4 850.9 L152.8 852.6 L153.5 852.8 L152.0 852.6 L152.1 854.7 L151.7 852.6 L153.2 854.2 L155.4 855.7 L154.2 852.8 L154.7 853.3 L155.2 853.6 L155.8 854.9 L154.4 853.9 L155.9 854.1 L155.9 853.0 L155.0 854.3 L154.7 853.4 L154.9 850.8 L154.7 852.8 L154.8 852.2 L155.0 851.3 L153.7 851.7 L155.3 852.0 L154.6 852.6 L155.1 852.1 L155.3 850.8 L154.1 850.8 L156.4 850.0 L153.8 850.5 L153.4 850.2 L153.4 850.1 L151.8 850.0 L151.5 850.0 L153.0 851.0 L152.5 849.7 L152.8 847.3 L153.2 848.6 L154.6 847.8 L153.1 847.1 L151.6 848.6 L153.3 847.3 L156.8 849.1 L155.8 848.3 L153.8 849.0 L154.3 848.7 L155.1 848.2 L156.0 847.7 L156.2 848.6 L156.9 848.0 L157.8 848.9 L157.0 848.3 L156.1 848.2 L156.4 848.3 L157.6 849.1 L156.7 849.3 L157.0 850.0 L157.6 849.4 L156.7 850.4 L158.8 850.3 L157.3 848.9 L158.9 849.6 L157.8 850.1 L159.1 850.8 L158.8 849.8 L157.6 850.7 L158.1 850.6 L159.4 851.5 L158.8 848.6 L159.7 849.9 L160.0 847.4 L159.5 848.8 L159.5 847.6 L159.0 847.2 L158.6 847.9 L159.9 848.0 L162.0 849.4 L160.0 849.5 L160.8 849.1 L162.4 849.3 L160.3 848.0 L160.6 847.0 L160.7 848.0 L163.8 847.8 L163.4 847.7 L162.8 849.5 L163.6 848.0 L163.2 849.9 L163.0 850.2 L164.0 849.5 L163.3 849.7 L163.1 850.7 L163.9 848.7 L164.3 850.4 L162.3 849.7 L163.9 850.5 L162.0 850.3 L161.3 850.1 L161.4 849.1 L160.2 850.7 L159.6 850.4 L162.0 849.8 L160.6 851.8 L161.2 852.5 L162.0 851.2 L159.9 853.6 L162.2 851.1 L163.6 852.0 L163.0 853.6 L163.7 852.8 L163.6 852.4 L163.7 851.8 L164.2 852.3 L162.9 851.2 L163.4 853.1 L162.8 852.4 L163.4 852.6 L164.3 855.1 L161.6 854.3 L164.0 853.2 L162.2 854.0 L163.7 853.8 L163.8 854.5 L162.9 852.7 L163.0 854.8 L161.2 854.8 L161.5 854.6 L160.6 854.5 L160.6 854.2 L161.4 855.4 L160.1 853.7 L160.1 854.1 L159.3 853.7 L158.3 855.9 L159.7 855.3 L158.8 854.1 L158.3 852.7 L158.7 854.0 L159.9 853.4 L158.9 851.3 L159.0 853.3 L158.1 853.2 L156.3 853.1 L158.1 851.9 L157.2 852.5 L156.0 852.8 L157.8 854.6 L156.7 855.0 L156.9 853.0 L157.0 853.2 L158.3 852.8 L156.1 855.4 L156.3 854.2 L158.0 853.7 L155.8 855.4 L157.8 855.0 L157.2 856.0 L157.4 855.8 L158.7 855.3 L156.2 856.2 L156.1 856.2 L156.1 856.7 L157.8 857.7 L158.1 858.7 L157.1 858.8 L158.6 858.7 L157.9 859.3 L159.2 859.8 L159.2 856.7 L158.5 858.3 L158.4 858.7 L159.5 856.7 L160.2 857.9 L158.4 859.4 L158.7 859.0 L158.0 857.6 L157.9 855.0 L158.7 856.6 L158.7 855.9 L159.3 856.6 L160.1 855.9 L158.5 855.4 L158.1 857.3 L161.2 856.0 L161.9 855.8 L162.3 856.4 L160.9 856.1 L160.3 855.8 L159.3 856.4 L163.2 855.9 L162.2 855.3 L162.0 856.5 L162.2 859.2 L164.0 858.4 L162.7 857.4 L161.5 857.7 L161.0 858.2 L161.2 858.4 L161.1 858.7 L162.1 858.0 L161.9 857.8 L162.0 858.4 L160.0 859.5 L162.6 859.3 L162.3 859.1 L162.0 859.4 L162.1 860.1 L162.3 859.1 L163.6 859.8 L163.8 861.6 M156.0 858.0 L153.8 855.4 L156.1 856.6 L154.7 856.6 L154.8 856.2 L153.8 856.3 L156.2 855.4 L153.5 856.0 L153.6 854.4 L153.4 856.1 L153.2 857.0 L154.0 856.8 M147.4 850.6 L148.4 850.6 L148.3 849.9 L147.5 849.7 L147.3 850.2 L147.6 850.5 L148.1 849.6 L148.2 848.7 L145.9 847.6 L146.7 847.4 L146.1 847.8 L147.5 848.1 L147.3 848.1 L147.7 847.7 L146.3 847.7 L144.0 848.1 L143.5 849.6 L144.4 847.3 L145.0 847.3 L145.1 847.5 L145.6 849.0 L145.1 849.5 L144.0 847.7 L144.9 848.9 L142.6 847.8 L142.7 848.3 L143.9 848.8 L143.5 847.5 L142.6 848.0 L141.1 847.7 L141.6 847.5 L141.4 847.7 L142.0 848.1 L140.1 847.8 L141.7 848.7 L140.0 847.4 L140.9 848.0 M136.3 851.4 L138.0 851.9 L135.7 851.9 L135.8 852.6 L135.9 852.5 L137.1 851.3 L138.2 851.0 L135.7 851.9 L136.7 850.7 L137.8 850.1 L139.4 850.6 L139.3 849.6 L137.8 849.1 L139.3 849.8 L138.8 851.2 L138.4 850.7 L138.4 848.3 L139.0 848.2 L140.7 848.5 L137.8 847.0 L137.4 847.0 L138.8 848.3 L137.3 847.1 L137.6 848.7 L137.8 846.8 L137.3 848.2 L137.4 849.2 L138.2 846.8 L137.9 848.5 L137.9 849.9 L136.6 850.1 L136.2 849.9 L138.3 849.5 L137.0 849.8 L137.1 850.8 L137.4 849.5 L137.8 848.9 L137.9 850.8 L138.3 850.1 L134.4 850.8 L136.4 849.1 L134.2 850.1 L134.5 849.8 L134.7 848.4 L135.8 848.7 L133.0 847.8 L133.3 847.8 L133.8 849.7 L133.6 848.0 L134.3 848.8 L132.0 849.0 L133.2 848.0 L132.3 847.7 L133.1 849.9 L133.2 850.9 L132.5 850.1 L133.3 851.1 L133.2 850.4 L132.7 851.9 L133.4 852.9 L132.7 853.2 L132.4 852.2 L133.1 852.6 L134.3 851.2 L133.3 852.1 L134.2 852.7 L135.6 852.0 L135.8 853.5 L134.1 852.9 L133.4 852.2 L134.6 851.8 L134.9 852.7 L135.6 853.2 L134.5 852.4 L135.9 853.7 L134.7 854.6 L132.1 854.7 L134.6 854.0 L132.4 853.3 L134.0 855.6 L132.1 854.8 L131.9 853.5 L134.2 853.6 L132.9 854.9 L133.1 855.3 M167.2 864.6 L168.6 863.2 L167.9 864.7 L167.6 864.9 L167.0 864.1 L167.8 863.6 M172.2 868.4 L172.0 865.8 L170.2 865.5 L170.4 866.3 L171.4 866.7 L172.1 865.1 L170.7 866.8 L172.1 865.9 L169.3 866.0 L169.3 865.3 L169.5 865.8 L169.4 865.6 L169.4 864.1 L168.1 862.7 L169.0 864.1 L167.4 864.5 L169.8 863.7 L169.4 863.3 L169.1 862.4 L169.7 864.8 L171.9 865.0 L172.3 864.6 L170.6 862.7 L171.2 864.9 L170.4 864.5 L172.4 863.8 L170.9 863.0 L174.0 864.3 L173.7 864.2 L172.2 863.9 L172.6 865.3 L172.5 865.1 L173.4 866.4 L174.3 865.3 L172.0 866.5 L175.6 865.2 L175.3 867.5 L174.6 865.8 L174.8 865.2 L174.8 866.1 L174.1 865.9 L174.7 863.5 L176.0 863.8 L174.9 864.1 L175.6 863.6 L175.4 864.6 L174.5 864.9 M173.7 870.2 L176.1 869.9 L175.6 870.4 L175.2 868.9 L175.3 869.7 L174.9 869.8 L175.4 870.4 L175.9 869.9 L174.4 870.7 L176.0 869.1 L174.1 868.3 L174.1 868.9 L173.8 868.4 L174.8 868.0 L172.6 869.5 L172.1 868.5 L172.5 866.9 L172.5 867.6 L173.2 868.1 L173.4 869.4 L172.6 867.9 L172.7 868.0 L173.9 867.6 L173.8 867.3 L173.6 869.8 M174.4 858.0 L174.1 856.6 L175.1 859.3 L174.7 858.1 L174.6 858.7 L175.4 857.9 L173.7 859.5 L173.7 858.7 L174.9 857.8 L174.6 854.7 L175.0 856.3 L174.7 857.0 L175.6 856.4 L175.8 856.1 L175.5 855.1 L175.5 856.7 L173.7 855.7 L173.0 855.5 L174.0 856.8 L172.7 858.0 L173.4 856.7 L173.5 857.6 L173.9 857.9 L173.8 857.8 L172.3 857.4 L172.5 860.0 L172.2 858.4 L172.9 857.7 L172.2 858.0 L173.8 860.0 L173.1 861.2 L172.6 860.4 L172.7 860.1 L171.9 860.3 L173.4 860.1 L173.7 859.9 L174.5 861.4 L174.3 861.1 L174.5 860.4 L175.6 860.4 L174.6 861.7 L175.5 860.2 L174.8 861.6 L174.8 859.7 L175.1 860.1 L175.7 858.6 L174.6 860.5 L175.0 862.8 L174.1 861.7 L174.9 861.5 L175.6 862.1 L173.8 861.7 L175.0 863.4 L172.2 860.9 L173.6 862.4 L172.3 861.7 L172.2 861.7 L172.3 863.2 L171.7 861.8 L173.3 862.7 L171.5 862.8 L170.9 861.9 L170.3 863.3 L171.2 862.2 L171.1 860.6 L170.2 863.9 L170.1 862.1 L170.0 859.2 L172.1 860.3 L171.6 861.4 L170.9 859.4 L169.0 860.3 L168.8 859.5 L169.0 862.0 L167.8 859.0 L169.1 858.7 L168.2 858.9 L168.2 859.0 L169.3 860.7 L168.0 859.3 L168.4 861.3 L168.0 862.6 L170.3 862.5 L167.4 862.7 L169.6 863.5 L169.5 861.7 L168.3 863.2 L168.2 862.6 L168.6 861.3 L170.1 861.6 L168.6 862.3 L169.0 861.7 L165.8 863.4 L167.1 861.6 L167.0 861.6 L167.6 862.2 L168.2 860.6 L166.9 862.1 L166.4 861.1 L168.1 862.2 L166.5 863.0 L164.1 861.9 L165.1 862.8 L165.6 860.7 L165.4 860.5 L165.4 861.9 L166.4 859.6 L164.6 859.3 L163.5 859.3 L166.7 860.3 L164.4 860.3 L167.5 860.6 L167.8 860.4 L165.7 859.1 L165.4 859.1 L166.6 860.7 L167.9 861.2 L166.2 858.9 L167.4 858.4 L166.0 858.6 L166.7 858.0 L165.5 857.6 L165.6 858.8 L165.5 858.1 L165.6 856.7 L164.6 859.0 L165.6 858.8 L164.6 858.9 L165.6 859.1 L165.2 859.3 L164.6 857.0 L165.2 854.7 L163.5 856.6 L164.4 855.7 L166.2 857.2 L164.0 856.9 L166.2 856.5 L167.4 855.2 L166.4 856.1 L165.9 856.9 L168.0 856.0 L170.7 855.7 L169.2 857.9 L169.0 855.1 L168.8 856.7 L168.9 856.7 L169.4 856.7 L168.5 854.5 L168.9 855.6 L169.6 857.5 L169.4 855.8 L169.9 856.5 L169.7 856.2 L169.2 857.3 L170.8 858.5 L169.8 857.8 L170.9 858.0 L171.6 857.6 L170.8 857.3 L171.9 857.2 L171.2 857.6 L170.7 857.1 L171.8 857.1 L169.9 855.9 L171.1 855.4 L170.5 853.0 L171.0 853.4 L170.3 853.3 L172.2 854.2 L170.0 854.3 L171.2 852.5 L171.3 853.8 L171.4 853.0 L171.5 854.1 L170.4 853.9 L169.6 851.8 L170.5 851.0 L170.3 852.5 L169.3 850.8 L169.4 852.8 L169.9 853.2 L168.8 852.8 L167.8 853.4 L168.0 851.6 L169.9 853.1 L169.4 855.0 L168.2 854.0 L168.3 853.8 L168.1 854.4 L169.9 852.6 L169.3 854.7 L168.3 853.9 L169.0 854.5 L167.5 854.5 L167.7 854.0 L167.2 854.4 L167.7 854.7 L167.2 854.3 L166.7 854.6 L167.2 853.6 L166.8 854.4 L164.2 853.8 L166.1 855.2 L163.9 854.4 L163.4 853.9 L164.3 851.6 L164.6 852.4 L165.1 851.4 L164.2 851.7 L165.4 852.2 L164.4 851.9 L165.0 852.3 L165.9 851.8 L166.0 852.5 L166.7 852.5 L166.0 851.2 L166.8 851.6 L167.4 852.0 L166.3 852.2 L167.2 852.3 L166.9 852.5 L166.6 851.6 L168.0 850.1 L168.1 849.7 L165.7 850.4 L165.3 850.0 L164.4 849.7 L165.0 850.6 L165.3 851.1 L164.4 849.9 L164.7 847.7 L164.7 848.1 L165.5 848.9 L165.9 848.1 L164.5 847.1 L166.7 849.2 L166.3 849.7 L166.7 848.0 L168.1 848.3 L167.9 847.8 L168.5 848.9 L168.5 847.8 L169.3 848.9 L169.0 847.7 L170.0 850.3 L169.6 850.5 L169.0 850.1 L170.2 850.8 L168.6 851.9 L169.4 850.3 L169.1 851.3 L170.4 850.6 L172.5 849.3 L170.6 851.6 L170.6 849.5 L170.3 850.9 L171.1 849.0 L170.6 849.0 L170.0 848.4 L171.1 849.1 L170.9 848.8 M171.8 852.6 L173.3 853.4 L172.9 853.4 L172.6 852.6 L172.3 852.9 L172.2 854.4 L173.0 854.7 L171.5 852.7 L173.3 855.3 L173.1 854.2 L172.8 854.1 L173.6 853.9 L174.5 854.7 L172.9 855.1 L171.9 852.8 L173.0 853.9 L173.5 855.0 L172.5 853.4 L175.2 855.2 L174.8 854.1 L173.6 853.7 L174.7 854.1 M168.1 846.7 L166.5 846.1 L167.5 844.9 L167.3 846.4 L168.3 846.6 L165.4 846.5 L164.6 845.4 L165.5 845.9 L164.6 847.0 L165.9 845.8 L164.5 845.5 L165.5 845.2 L164.2 844.7 L165.0 843.2 L164.5 845.8 L166.3 843.5 L165.9 845.1 L166.2 844.3 L164.8 844.0 L164.1 842.8" stroke-width="0.9"/>
<path class="cv" d="M176.6 856.8 L177.5 857.1 L176.9 857.6 L178.3 858.8 L176.8 859.5 L175.6 858.2 L177.5 859.1 M182.9 864.2 L183.1 862.9 L180.4 863.1 L180.4 862.6 L179.5 863.5 L179.2 862.6 L179.4 863.1 L179.1 863.1 L179.4 863.0 L178.9 862.0 L179.7 861.2 L177.7 859.6 L176.9 861.2 L175.8 859.5 L177.1 861.7 L178.0 859.2 L176.3 859.7 L177.0 861.8 L177.0 861.4 L177.0 861.1 L178.1 861.6 L175.9 863.8 L175.7 864.9 L177.9 863.4 L177.7 864.5 L178.9 866.9 L177.7 865.7 L176.5 867.3 L176.8 866.0 L177.8 865.3 L176.4 866.0 L177.3 867.4 L177.3 869.0 L177.9 869.7 L176.6 869.4 L177.1 867.1 L177.3 868.4 L176.9 870.2 L178.3 870.7 L178.1 870.7 L178.3 870.1 L180.3 870.5 L179.5 868.8 L177.7 867.9 L180.3 867.4 L178.6 869.6 L180.4 870.1 L182.0 871.8 L180.8 870.4 L182.6 870.7 L182.7 872.0 L183.2 869.2 L182.0 871.1 L181.9 871.7 L182.6 870.0 L183.2 867.1 L184.3 868.6 L182.2 868.2 L182.5 867.4 L183.2 867.3 L180.8 866.8 L181.1 866.5 L180.4 866.9 L180.1 865.1 L180.5 864.0 L179.8 864.1 L180.4 864.8 L181.1 865.1 L183.2 863.9 L181.6 863.9 L181.4 865.0 L184.0 865.1 L184.0 864.4 L185.1 865.5 L185.3 866.0 L185.2 865.8 L184.1 865.2 L184.0 864.4 M186.9 867.3 L186.2 866.7 L186.1 865.4 L184.4 867.6 L185.7 866.6 L184.4 865.9 L184.0 868.6 L184.1 870.0 L184.3 868.7 L185.5 867.7 L184.1 867.4 L185.6 868.6 L185.7 871.4 L185.2 870.6 L188.1 870.7 L186.3 870.0 L188.0 869.3 L187.9 870.6 L187.0 869.3 L187.0 867.2 L186.4 867.6 L186.8 868.3 L187.8 868.4 L186.0 869.9 L187.6 869.5 L189.2 868.3 L188.8 868.6 L188.0 869.8 L188.9 871.3 L189.0 870.7 L190.7 872.1 L191.4 869.8 L191.4 870.6 L191.5 868.1 L190.5 867.0 L189.5 869.6 L191.7 869.2 M205.0 871.3 L204.4 870.5 L204.0 871.4 M200.5 869.2 L199.5 870.4 L198.6 870.8 L198.2 871.5 L199.4 869.2 L197.1 870.2 L198.2 870.4 L197.5 869.9 M192.6 869.0 L191.7 868.6 L193.7 868.9 L192.9 869.9 L194.6 867.6 L194.0 869.7 L195.0 871.1 L195.0 871.2 L195.6 871.8 L193.3 870.5 L192.7 871.3 L191.5 871.1 L194.0 871.7 L193.0 873.4 L194.6 871.8 L194.4 871.7 L193.8 872.7 L194.8 874.1 L196.1 874.4 L194.5 875.5 L195.4 874.0 L192.3 874.3 L192.7 875.1 L193.5 874.7 L192.5 876.1 L191.9 876.6 L192.9 876.8 L193.8 877.4 L193.2 876.8 L191.8 878.3 L194.5 878.4 L195.3 878.2 L194.2 878.3 L195.4 878.0 L195.2 878.3 L194.7 877.1 L196.4 875.6 L195.2 877.3 L196.6 877.5 L194.7 876.4 L193.6 875.2 L195.1 877.3 L198.4 876.7 L197.8 877.0 L196.3 875.9 L197.2 878.0 L197.8 877.6 L199.2 878.5 L198.9 879.1 L199.0 878.5 L198.5 877.0 L197.6 875.4 L199.2 876.0 L199.0 876.9 L199.5 875.9 L199.8 873.5 L199.3 873.5 L197.1 875.2 L199.4 873.2 L199.4 875.9 L198.9 874.1 L199.1 874.1 L197.7 875.5 L196.9 874.3 L196.0 873.8 L197.5 875.4 L197.5 872.9 L197.4 871.8 L196.3 872.4 L198.4 871.1 L199.9 872.5 L199.5 873.5 L200.5 872.6 L202.3 875.4 L200.3 874.1 L201.4 874.1 L201.7 874.7 L202.6 873.5 L202.9 875.0 L203.0 874.4 L201.6 873.6 L203.2 875.6 L202.5 871.8 L201.3 871.6 L203.0 871.7 L204.6 873.2 L206.6 872.6 L207.6 875.7 L207.5 875.3 L203.7 873.6 L203.6 875.2 L204.0 873.0 L206.3 874.3 L203.9 873.3 L205.0 874.9 L205.8 876.5 L204.8 876.8 L205.1 876.1 L207.1 876.7 L207.9 876.5 L206.7 876.9 L207.6 876.1 L206.4 875.4 L207.2 876.5 L206.2 875.6 L207.9 877.2 L207.5 877.8 L206.0 878.5 L206.9 878.6 L204.4 878.9 L204.0 877.1 L205.3 878.3 L202.2 878.4 L202.1 878.1 L203.8 878.3 L203.6 878.9 L202.6 879.1 L202.9 879.4 M204.7 874.9 L203.4 875.1 L200.2 875.9 L200.2 877.5 L200.3 876.0 L201.6 876.4 L200.7 875.3 L202.3 876.6 L200.4 877.4 L201.0 876.4 L200.9 877.0 L201.1 879.1 L201.9 878.3 L200.9 878.5 L202.2 879.6 L202.2 877.7 L201.1 879.3 L200.5 880.8 L200.3 881.0 L201.2 881.2 L203.5 882.4 L202.1 881.5 L202.4 880.9 L202.2 879.9 L202.6 879.7 L202.1 880.5 L204.2 881.4 L205.5 882.3 L205.6 879.8 L207.9 881.5 L207.5 883.5 L207.2 881.5 L205.7 881.2 L206.0 881.7 L205.4 882.0 L204.8 882.8 L205.4 883.4 L205.8 882.4 L206.7 883.6 M189.9 877.4 L189.0 876.1 L189.0 876.5 L190.0 877.5 L190.2 877.6 L190.7 875.0 L190.8 873.3 L191.5 875.5 L190.5 874.7 L191.5 873.9 L191.2 873.8 L190.2 875.2 L192.5 873.6 L190.2 874.2 L188.5 874.0 L190.0 873.9 L189.8 873.9 L187.5 873.9 L186.5 873.4 L186.4 875.1 L186.8 873.7 L186.4 873.5 L187.8 871.6 L188.0 873.1 L187.4 873.9 L188.1 872.4 L188.6 873.9 L185.8 873.5 L183.6 873.6 L184.3 872.4 L183.7 872.8 L185.3 872.5 L184.2 873.9 L184.6 872.3 L184.7 874.1 L184.0 875.8 L185.5 875.4 L184.6 874.4 L184.6 875.6 L183.6 875.4 L187.0 876.4 L186.0 876.5 L184.4 876.6 L183.1 876.1 L182.8 876.1 L182.7 875.4 L182.5 874.7 L181.5 874.3 L183.0 873.1 L181.4 873.5 L180.2 873.1 L181.5 872.6 L181.4 871.4 L181.4 872.7 L181.1 872.2 L180.7 875.3 L180.3 875.0 L181.0 875.3 L181.5 874.7 L181.7 873.8 L180.6 874.2 L178.5 874.1 L179.4 874.8 L179.2 872.0 L179.5 873.3 L177.5 873.1 L178.3 872.9 L177.2 871.0 L177.9 871.9 L177.6 872.2 M216.0 887.3 L215.6 888.4 L215.1 889.0 L215.7 887.5 L214.8 886.7 L216.0 886.0 L215.4 883.1 L216.0 884.8 L215.6 885.7 L213.9 884.2 L214.8 884.7 L213.4 884.4 L215.0 884.8 L214.9 885.7 L212.7 884.5 L211.9 884.9 L213.0 883.9 L212.6 886.5 L213.5 886.9 L212.5 886.4 M208.1 883.6 L210.5 884.8 L211.6 883.5 L209.3 883.8 L212.1 884.5 L210.9 883.8 L211.2 883.2 L209.3 882.9 L208.3 881.9 L208.6 879.7 L208.9 882.0 L208.0 880.9 L212.1 879.5 L212.0 879.4 L210.3 881.2 L210.0 879.5 M210.4 878.6 L210.6 879.7 L208.0 877.6 L209.2 878.3 L209.1 877.3 L208.9 877.1" stroke-width="0.9"/>
<path class="cv" d="M225.1 886.8 L222.7 886.5 L223.4 887.2 L223.9 888.3 L223.7 886.8 L222.9 888.0 L220.9 887.9 L221.7 886.9 L222.3 887.1 M214.3 888.5 L215.6 888.7 L213.1 886.5 M209.6 883.3 L210.5 884.2 L211.1 885.4 L211.3 885.2 L211.5 885.9 L210.5 888.0 L212.8 889.0 L212.7 887.4 L210.7 886.8 L210.9 887.1 M211.5 891.2 L211.8 891.8 L212.6 889.2 L210.9 889.1 L211.7 889.8 L212.5 891.2 L212.9 889.0 L213.8 889.0 L214.2 890.0 L212.9 889.6 L214.0 890.5 L215.8 888.6 L215.5 889.4 L217.1 891.6 L215.4 891.1 L215.2 892.5 L215.0 892.0 L217.0 891.0 L214.6 891.2 L213.3 891.8 L213.0 891.4 L212.7 891.7 L214.6 890.8 L215.1 892.5 L214.7 894.4 L214.3 892.2 L214.3 893.8 L215.8 894.0 L215.4 892.6 L215.9 893.7 L216.0 894.0 L217.1 894.6 L214.6 895.4 L216.1 895.9 L214.7 895.0 M223.7 894.1 L222.5 893.4 L222.3 894.3 L221.8 894.6 L222.4 893.9 L222.2 893.0 L220.7 894.4 L223.4 894.2 L220.9 892.2 L221.7 893.6 L223.5 894.9 L222.8 895.9 L222.7 894.8 L222.1 896.3 L219.6 895.3 L217.4 896.3 L217.7 895.1 L218.4 894.7 L218.8 894.6 L218.3 894.0 L217.9 895.1 L219.3 894.6 L217.5 892.7 L219.8 894.9 L219.1 893.2 L220.3 894.1 L220.0 894.2 L221.2 892.8 L220.1 893.9 L218.9 894.5 L221.0 892.0 L220.6 892.8 L217.7 891.1 L217.6 891.5 L217.6 890.2 L218.2 891.3 L218.1 892.5 L219.5 892.1 L217.9 890.1 L216.9 889.6 L217.9 890.1 L216.8 890.1 L218.7 889.9 L217.5 890.2 L218.9 890.7 L219.2 889.2 L221.4 889.9 L219.7 889.6 L222.5 890.1 L221.5 890.0 L221.7 891.2 L222.3 891.8 L223.4 892.1 L223.0 891.9 L222.4 891.1 L222.5 891.5 L223.6 890.5 L224.3 890.6 L224.9 892.0 L223.8 890.3 L225.5 888.9 L225.9 889.2 L226.4 889.3 L224.8 889.1 L226.7 891.0 L226.8 892.5 L225.2 891.9 L227.1 890.7 L227.3 890.6 L227.0 892.5 L227.9 891.2 L227.8 888.6 L228.1 889.6 L227.9 890.0 L227.5 890.0 L230.8 888.8 L230.6 890.0 L229.2 891.3 L229.5 889.4 L233.6 891.1 L232.0 889.0 L231.7 888.5 L233.0 889.6 L231.4 892.2 L228.8 892.2 L230.1 890.4 L230.7 891.3 L230.6 892.6 L229.3 893.7 L229.5 893.1 L228.5 893.3 L229.9 894.0 L229.4 893.7 L232.7 894.1 L233.0 893.4 L232.6 894.0 M227.1 894.6 L226.9 893.0 L226.5 894.4 L225.3 892.7 L225.4 894.7 M239.5 894.8 L240.0 894.5 L239.8 897.1 L240.4 895.3 L240.3 893.5 L239.3 894.3 L237.3 893.9 L238.2 894.0 L238.8 893.9 L238.7 892.8 L237.2 893.0 L238.8 892.8 L237.8 893.4 L238.1 895.6 L237.3 895.8 L236.7 895.8 L234.0 894.7 L233.0 894.2 L234.2 892.8 L237.3 891.5 L234.9 892.1 L235.7 890.9 L234.2 890.6 L232.8 892.2 L233.9 892.7 L234.1 891.7 L234.6 888.5 L234.8 888.6 L233.5 890.3 L232.2 888.7 L235.6 889.7 L235.2 890.5 L237.0 889.0 L236.3 891.2 L235.9 890.4 L237.2 888.4 L238.1 890.8 L237.9 892.4 L238.9 891.8 L238.3 891.7 L239.1 891.9 L237.7 890.6 L237.4 892.5 L238.5 891.1 L239.9 891.1 L238.8 891.8 L241.1 892.7 L241.0 890.4 L241.4 889.9 L239.7 887.2 L240.3 887.5 L239.4 889.2 L239.1 887.2 L240.8 888.5 L239.6 887.2 L238.2 889.5 L237.7 887.0 L238.0 888.6 L239.2 887.3 L237.1 887.0 L238.4 886.2 L239.0 887.2 L239.1 886.8 M234.8 885.2 L234.1 886.1 L234.4 884.8 L234.5 886.2 L233.4 884.9 L233.1 885.5 L233.8 887.3 L233.9 884.5 L236.5 885.8 L236.4 885.9 L235.5 887.3 L236.6 888.8 L235.6 886.3 L235.6 888.5 L233.0 887.7 L234.1 888.9 L234.2 887.4 L234.6 887.3 L231.5 888.5 L231.3 888.5 L232.8 888.0 L230.6 887.2 L232.1 886.1 L232.6 885.5 L231.9 884.0 L231.1 886.1 L229.2 886.6 L229.2 886.7 L230.1 886.7 L230.2 888.0 L230.1 886.5 L229.4 887.6 L230.2 886.6 L228.7 888.8 L230.5 888.0 L228.6 888.9 L227.2 887.6 L229.3 888.5 L227.6 888.1 L225.9 889.3 L224.6 887.7 L225.8 886.3 L227.4 886.8 L225.9 885.5 L228.4 885.1 M241.9 888.0 L242.1 889.3 L241.8 887.8 L240.8 888.3 L241.3 888.0 L242.1 889.0 L243.7 888.0 L244.2 888.8 L244.4 887.4 L244.9 885.8 L246.1 885.7 L246.2 885.7 L245.6 886.3 L246.1 885.3 L245.7 888.6 L245.8 888.2 L246.2 887.8 L246.2 887.7 L245.5 887.6 L246.2 887.9 L247.3 888.4 L249.1 887.2 L247.9 886.8 L247.5 886.3 L246.8 886.4 L248.5 886.3 L248.5 886.2 L246.8 887.2 L247.8 887.3 L247.6 884.7 M252.2 883.0 L250.9 882.4 L251.9 881.9 L252.3 882.5 L252.0 883.4 L253.5 883.6 L251.6 883.7 L253.6 884.1 L251.7 884.9 L250.2 884.0 L251.7 883.7 L251.6 883.2 L250.2 884.5 L249.2 886.0 L249.7 887.6 L249.9 889.2 L252.2 888.4 L252.1 887.4 L253.0 888.5 L253.3 888.1 L251.9 885.8 L253.1 885.2 L252.4 885.7 L252.7 886.9 L254.8 886.8 L254.2 884.9 L254.5 887.1 L254.9 888.1 L254.0 887.6 L255.6 889.5 L256.0 888.2 L254.4 888.6 L255.7 889.3 L255.0 886.2 L256.0 886.0 L254.8 886.1 L256.8 885.3 L257.0 883.2 L255.1 882.9 L257.3 884.3 L255.8 884.1 L255.5 884.9 L255.4 884.0 L254.5 884.5 L253.4 881.7 L254.1 881.1 L253.9 881.2 L254.5 882.1 L255.9 881.1 L254.6 881.0 L254.8 880.5 L254.3 881.1 L253.8 878.9 L254.3 881.0 L257.6 881.0 L259.3 880.9 L259.0 879.2 L258.5 881.0 L258.7 879.7 L261.0 879.5 L260.2 880.7 L261.6 880.9 L263.0 879.6 L261.4 880.3 L263.4 879.4 L263.0 878.9 L264.5 879.3 L263.8 880.6 L263.6 878.9 L264.6 879.2 L263.6 879.9 L264.5 878.4 M271.0 875.9 L272.1 875.7 L270.2 876.8 L269.6 878.2 L270.7 877.1 L271.2 879.2 L271.9 876.6 L271.1 878.2 L270.4 880.7 L270.8 880.3 L269.4 880.2 L268.4 879.3 L267.6 878.2 L265.5 880.2 L266.3 879.1 L265.1 881.1 L265.7 881.0 L265.9 882.4 L266.1 883.6 L268.3 883.9 L268.3 885.1 L266.8 883.7 L267.4 882.0 L269.6 881.9 L266.7 881.9 L268.5 882.1 L268.2 881.4 L266.9 881.0 L270.0 881.3 L268.6 881.5 L271.6 882.2 L271.8 881.4 L271.9 880.7 L271.3 881.4 L271.8 883.1 L270.4 882.5 L271.3 880.4 L273.6 882.9 L272.8 882.5 L271.6 884.5 L271.9 884.9 L272.4 884.7 L270.1 883.2 L270.0 884.4 L270.4 884.2 L271.0 885.6 L272.5 885.2 L271.4 885.6 L270.8 887.2 L272.6 885.6 L271.6 886.6 L271.0 885.7 L271.4 886.8 L272.2 886.9 L272.4 887.8 L271.2 889.0 L272.0 888.5 L272.0 889.1 L271.5 889.2 L272.2 888.5 L270.3 887.6 L269.0 887.7 L270.6 886.7 L270.0 888.1 L268.3 888.1 L269.0 887.6 L268.6 887.3 L268.9 885.4 L268.8 884.3 L267.9 886.0 L268.1 886.0 L267.8 884.4 L266.6 886.0 L264.5 885.6 L266.9 885.6 L266.1 886.7 L267.3 885.4 L265.2 888.1 L264.9 887.9 L266.2 887.7 L264.4 888.7 L263.7 888.0 L262.3 886.8 L261.6 887.9 L262.4 888.8 L262.8 886.6 L262.7 886.8 L264.2 884.7 L263.3 885.7 L265.2 883.9 L264.5 882.6 L263.0 883.2 L263.9 883.1 L263.9 884.7 L264.0 883.5 L264.2 884.1 L264.8 884.0 L263.1 881.2 L263.9 880.9 L262.7 881.0 L261.0 881.7 L262.3 881.6 L261.4 883.4 L260.0 884.3 L260.0 884.5 L260.0 882.9 L260.3 882.3 L259.1 881.1 L257.5 880.7 L258.1 883.5 L257.2 883.9 L257.6 883.3 L257.9 883.3 L256.5 882.9 L258.8 883.5 L257.8 885.7 L258.5 886.0 L258.1 886.3 L259.4 885.4 L260.2 885.3 L258.6 886.1 L260.3 885.4 L259.1 885.1 L259.3 884.6 L261.6 887.2 L260.7 887.9 L260.7 887.2 L257.6 887.4 L258.7 888.9 L257.6 887.8 L257.2 888.8 L257.8 888.1 L259.4 887.7 L262.1 889.4 L261.9 889.8 L261.4 889.8 L261.9 890.2 L264.9 890.8 L263.2 889.3 L263.3 889.6 L265.3 890.7 L267.2 890.6 L265.1 889.4 L265.1 888.8 L266.9 890.2 L268.4 889.5 M256.2 888.8 L254.0 888.5 L253.3 890.2 L252.6 891.8 L251.2 890.5 L252.6 889.5 L251.6 889.7 L251.3 890.3 L249.6 891.4 L249.3 889.0 L249.2 892.7 L250.2 891.7 L248.2 892.4 L250.1 893.3 L247.6 894.7 L246.9 896.1 L246.0 895.9 L247.1 894.9 L246.6 895.0 L246.7 893.6 L246.0 893.7 L246.4 892.7 L244.7 894.1 L246.4 894.5 L248.3 894.9 L248.3 892.5 L247.7 894.8 L247.7 894.3 L248.0 893.4 L246.8 893.8 L248.3 893.3 L248.3 894.2 L247.9 890.8 L248.6 892.1 L248.3 891.2 L248.1 891.9 L248.0 889.4 L248.5 890.1 L249.3 890.0 L248.2 889.1 L248.3 889.7 L247.0 890.8 L247.6 889.3 L245.6 890.7 L246.9 890.1 L246.4 889.4 L245.9 890.7 L245.6 891.5 L244.3 891.1 L246.5 891.3 L246.3 892.2 L247.2 893.0 L243.2 890.7 L245.1 891.8 L243.8 891.4 L242.4 892.1 L244.7 891.5 L243.4 891.9 L244.6 889.0 L244.7 890.9 L244.8 890.6 L244.2 888.9 L243.5 890.0 L242.9 889.4 L242.1 890.7 L241.4 888.5 L240.4 890.6 L242.2 890.0 L240.5 888.0 L241.0 891.5 L243.4 892.8 L241.0 893.6 L241.5 891.7 L242.6 890.9 L242.8 892.4 L242.5 893.0 L241.7 894.2 L242.0 893.5 L243.4 893.7 L243.2 893.4 L243.3 894.2 L245.2 894.7 L244.3 893.6 L243.7 895.6 L243.6 895.4 L243.8 896.1 L242.4 896.4 L242.9 894.9 M281.4 881.3 L280.8 883.3 L278.9 884.7 L278.8 884.9 L277.6 886.2 L278.4 885.7 L278.5 884.1 L277.3 884.9 M273.7 888.0 L274.3 886.7 L274.6 886.9 L273.9 884.8 L274.2 885.9 L275.5 884.8 L275.9 885.8 L275.5 886.2 L276.5 884.5 L274.8 884.2 L276.3 883.7 L274.8 883.9 L273.0 883.1 L274.2 882.5 L275.2 882.8 L273.1 883.8 L274.8 883.2 L274.7 883.5 L275.4 884.0 L273.4 882.9 L275.4 881.5 L273.2 882.7 L275.2 880.3 L275.3 883.0 L275.4 882.7 L274.3 883.4 L276.1 881.6 L276.6 880.2 L276.1 881.5 L278.2 880.8 L279.4 882.5 L278.1 882.0 L277.1 881.3 L276.7 880.8 L277.3 882.6 L277.2 885.0 L278.9 884.6 L276.1 883.9 L277.6 884.3 L281.6 883.2 L280.8 884.3 L279.4 884.8 L280.5 883.4 L279.9 884.7 L281.2 883.2 L281.3 880.6 L279.9 879.8 L279.4 879.2 L279.3 881.1 L280.9 880.3 L279.8 879.4 L279.3 876.6 L279.9 877.6 L278.9 877.2 L277.6 878.6 L278.3 878.0 L277.6 877.9 L277.6 880.2 L278.6 879.0 L277.8 879.8 L278.6 878.5 L276.7 879.2 L275.2 880.3 L275.2 879.3 L274.8 879.7 L273.4 879.5 L274.2 877.0 L275.0 878.5 L276.0 878.5 L275.4 876.8 L276.0 875.6 L276.9 874.8 L276.4 876.2 L277.1 874.5 L275.3 875.9 L274.2 876.1 L275.0 875.2 L275.8 873.4 L277.1 872.9 L275.4 875.1 L276.9 873.0 L277.7 874.0 L278.3 874.1 L277.1 873.1 L277.9 876.2 L278.0 875.9 L279.3 875.7 L279.3 875.5" stroke-width="0.9"/>
<path class="cv" d="M209.6 895.8 L211.6 896.0 L212.7 897.9 L212.0 896.8 L212.5 897.0 L211.6 896.9 L211.0 898.2 L211.1 897.6 L211.5 894.9 L212.2 894.3 L212.7 895.1 L214.1 896.1 L213.1 896.2 L213.4 892.8 L212.9 892.5 L212.1 893.8 L210.2 895.4 L210.2 894.7 L208.9 893.4 L207.0 894.3 L207.9 892.8" stroke-width="0.9"/>
<path class="cv" d="M452.5 831.5 L456.7 835.0 L463.0 836.7 L473.4 836.7 L477.6 840.9 L480.7 845.5 L485.9 847.1 L496.3 848.2 L502.6 848.2 L506.8 850.3 L511.0 853.4 L515.1 854.4 L518.9 851.3 L521.0 853.0 L525.6 855.5 L531.8 857.1 L535.0 854.3 L539.1 851.0 L542.3 846.1 L543.1 844.5 L546.4 842.9 L547.2 839.6 L548.0 837.0 L550.5 835.8 L552.5 837.5 L552.0 841.0 L549.5 842.5 L547.8 840.5 L550.0 838.0 L553.0 836.0 L554.5 833.0 L557.0 832.3 L559.2 834.5 L558.5 837.5 L556.0 839.0 L554.0 837.5 L556.0 835.5 L558.5 838.0 L559.4 840.4 L561.8 841.3 L563.9 838.0 L564.7 839.2 L563.9 842.9 L565.1 846.1 L567.5 844.5 L570.0 846.1 L572.4 847.0 L575.7 847.8 L578.1 851.0 L578.9 855.1 L580.5 858.3 L583.8 860.8 L587.0 862.4 L589.5 864.0 L589.1 867.3 L589.6 864.5 L591.9 864.8 L595.0 865.2 L597.9 867.9 L601.7 866.0 L609.3 871.7 L616.0 876.5 L620.7 879.3 L622.6 885.0 L626.4 887.9 L632.1 886.9 L637.8 885.0 L645.4 886.0 L649.2 886.9 L653.0 889.8 L656.8 885.0 L660.6 881.6 L668.1 880.8 L671.9 878.4 L675.7 880.3 L681.4 877.4 L686.2 875.0 L689.0 878.4" stroke-width="0.75"/>
<path class="cv" d="M452.5 831.5 L456.7 835.0 L463.0 836.7 L473.4 836.7 L477.6 840.9 L480.7 845.5 L485.9 847.1 L496.3 848.2 L502.6 848.2 L506.8 850.3 L511.0 853.4 L515.1 854.4 L518.9 851.3 L521.0 853.0 L525.6 855.5 L531.8 857.1 L535.0 854.3 L539.1 851.0 L542.3 846.1 L543.1 844.5 L546.4 842.9 L547.2 839.6 L548.0 837.0 L550.5 835.8 L552.5 837.5 L552.0 841.0 L549.5 842.5 L547.8 840.5 L550.0 838.0 L553.0 836.0 L554.5 833.0 L557.0 832.3 L559.2 834.5 L558.5 837.5 L556.0 839.0 L554.0 837.5 L556.0 835.5 L558.5 838.0 L559.4 840.4 L561.8 841.3 L563.9 838.0 L564.7 839.2 L563.9 842.9 L565.1 846.1 L567.5 844.5 L570.0 846.1 L572.4 847.0 L575.7 847.8 L578.1 851.0 L578.9 855.1 L580.5 858.3 L583.8 860.8 L587.0 862.4 L589.5 864.0 L589.1 867.3 L589.6 864.5 L591.9 864.8 L595.0 865.2 L597.9 867.9 L601.7 866.0 L609.3 871.7 L616.0 876.5 L620.7 879.3 L622.6 885.0 L626.4 887.9 L632.1 886.9 L637.8 885.0 L645.4 886.0 L649.2 886.9 L653.0 889.8 L656.8 885.0 L660.6 881.6 L668.1 880.8 L671.9 878.4 L675.7 880.3 L681.4 877.4 L686.2 875.0 L689.0 878.4" stroke-width="1.9" stroke-dasharray="0 3.3"/>
</svg></body></html>
